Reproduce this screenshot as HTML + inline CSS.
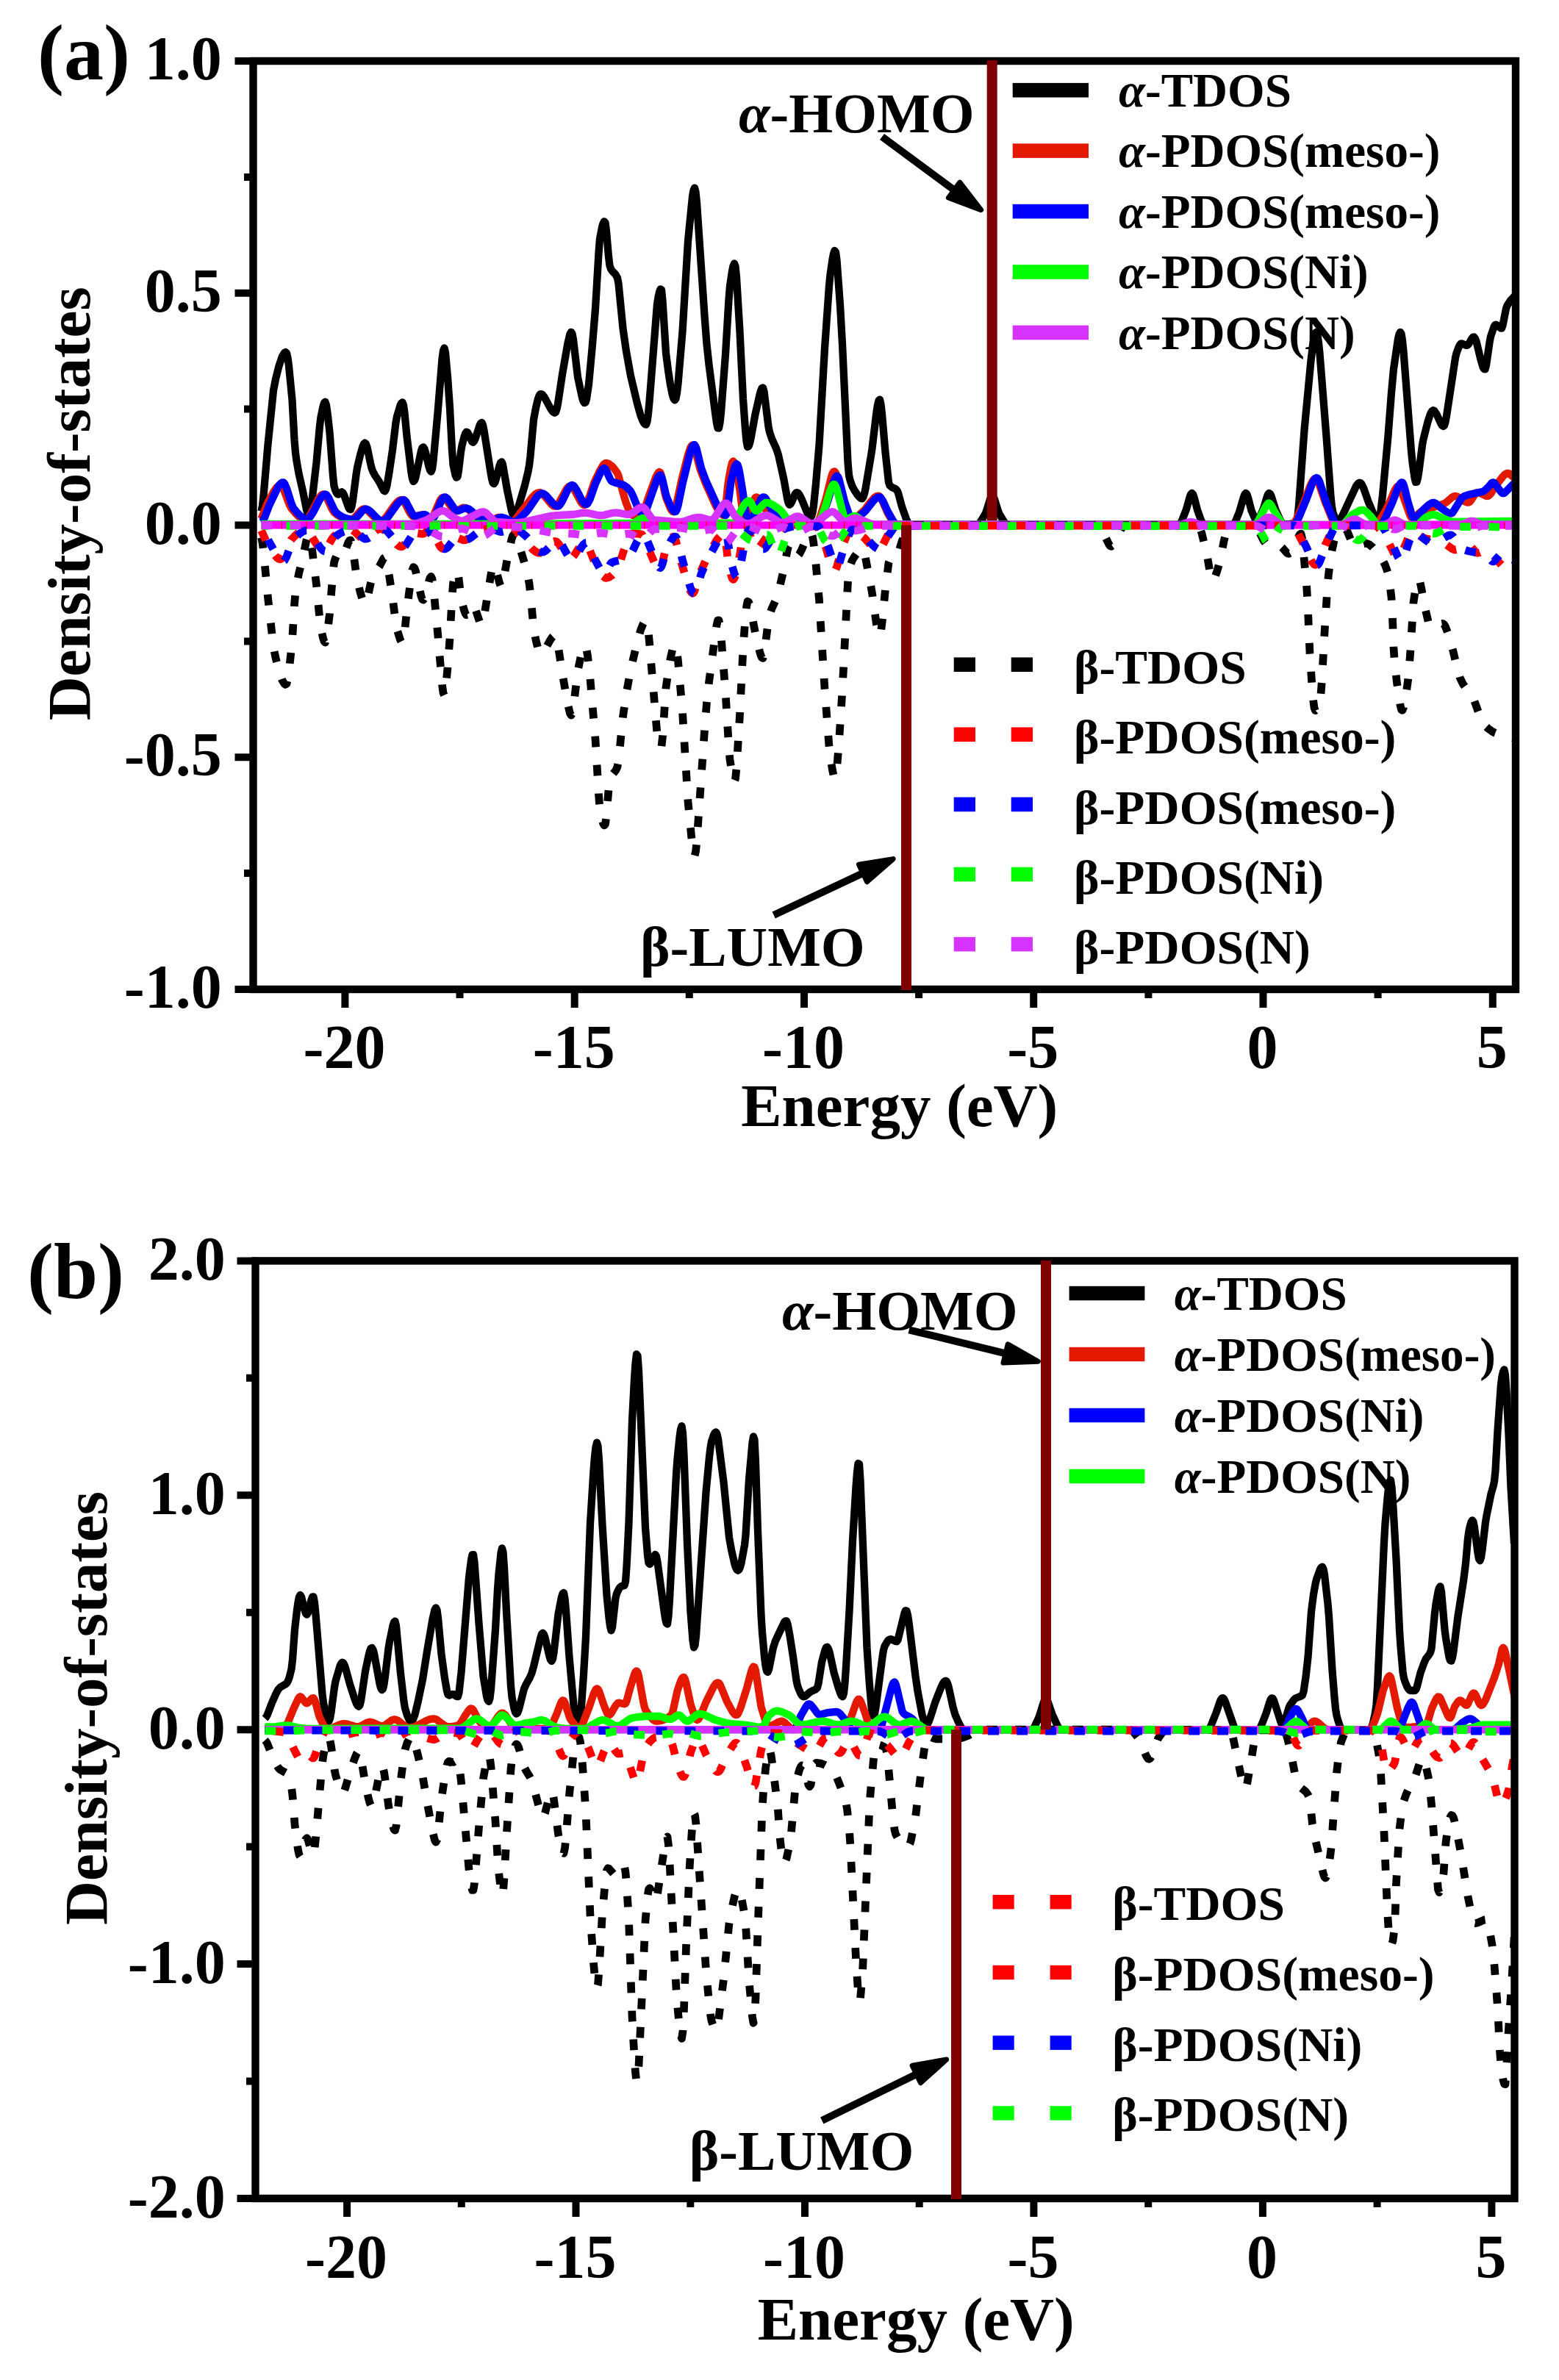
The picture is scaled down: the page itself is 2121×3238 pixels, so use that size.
<!DOCTYPE html>
<html><head><meta charset="utf-8"><title>DOS</title>
<style>html,body{margin:0;padding:0;background:#fff}svg{display:block}text{font-family:"Liberation Serif","Times New Roman",serif;font-weight:bold;fill:#000}.s{fill:none;stroke-width:10.3;stroke-linejoin:round;stroke-linecap:butt}.d{fill:none;stroke-width:10.7;stroke-linejoin:round;stroke-linecap:butt;stroke-dasharray:14.8 24.2}.t{font-size:84px}.l{font-size:65.1px}.m{font-size:65.5px}.n{font-size:77px}.p{font-size:108px}.x{font-size:83px}</style></head><body>
<svg width="2121" height="3238" viewBox="0 0 2121 3238">
<rect width="2121" height="3238" fill="#fff"/>
<defs><clipPath id="ca"><rect x="344.5" y="83.0" width="1717.5" height="1263.0"/></clipPath></defs>
<g clip-path="url(#ca)">
<path class="s" stroke="#000" d="M355.5 695.6L357 687.9L358.5 674.9L364.5 604.9L372 531.2L375 515.8L379.5 497.8L384 484.7L387 480L388.5 479.1L390 480.4L391.5 487L393 497.9L397.5 544.1L400.5 598.6L402 616.1L403.5 627.2L406.5 644.1L412.5 670.7L417 693.3L418.5 698.2L420 700L421.5 697.5L423 690.7L424.5 680.7L430.5 629L435 579.4L436.5 567.6L439.5 553L441 548.2L442.5 546.7L444 551.4L445.5 561.7L448.5 588.1L453 647.3L454.5 661.1L456 666.3L457.5 669.9L459 672.2L460.5 672.6L463.5 670.1L465 669.3L466.5 670.4L468 673.3L474 690.1L475.5 692.7L477 693.2L478.5 689.1L480 680.8L484.5 646L486 636.5L487.5 629.9L490.5 617.4L493.5 607.2L495 604L496.5 602.7L498 604.1L499.5 608.6L504 630.1L505.5 636.5L507 640.8L510 646.5L516 655.6L522 667.5L523.5 668.3L525 665.9L526.5 660.3L529.5 642.7L534 612.2L538.5 574.9L540 566.7L544.5 551.6L546 548.6L547.5 547.3L549 551.1L550.5 562.3L553.5 593.5L559.5 642.5L561 651.2L562.5 655L564 653.6L565.5 649.3L573 613.4L574.5 609.4L576 608.4L577.5 610.8L579 615.7L583.5 635L585 639.6L586.5 641.6L588 638.2L589.5 627.6L595.5 561.7L601.5 488.2L603 477L604.5 473.4L606 479.6L609 512.9L612 554.7L615 612.4L616.5 632.3L619.5 646.3L621 649.6L622.5 648.5L624 639.9L627 614.6L628.5 606L631.5 594.4L633 590.1L634.5 587.8L636 588.2L637.5 590.7L642 600.7L643.5 601.7L645 600.3L646.5 597.1L652.5 578.8L654 575.9L655.5 575L657 578.3L658.5 585.6L667.5 642.8L669 651.2L670.5 656.8L672 658.2L673.5 656L675 651.4L679.5 633.6L681 629.6L682.5 628.4L684 631.8L690 666.7L696 694.8L697.5 699.4L699 701.6L700.5 701.1L702 698.8L705 690.7L714 660.3L718.5 641.5L720 633.3L721.5 620.8L726 571L729 554.9L732 542.5L733.5 538.4L735 536.2L736.5 536.1L738 537L741 540.8L748.5 554.9L751.5 559.4L753 560.9L754.5 561.6L756 560.8L757.5 556.4L759 549.3L765 509.4L772.5 466.6L775.5 454.2L777 451.8L778.5 453.9L780 462L786 513L792 541L793.5 545.6L795 548.1L796.5 547.6L798 542.9L801 522.7L805.5 474.5L810 420L814.5 344.4L816 324.9L819 309.1L820.5 304.1L822 301.3L823.5 303L825 314.6L828 349.2L829.5 361.4L831 365.7L832.5 368.2L837 372.9L838.5 375.1L840 378.3L841.5 385.8L847.5 446.7L852 477.9L858 511.2L867 549.1L871.5 565.1L874.5 572.8L876 575.4L877.5 577.1L879 577.7L880.5 573.6L882 562.6L883.5 546.8L894 413.7L895.5 404.2L897 397.6L898.5 393.4L900 394.4L901.5 409.1L906 480.4L909 503.7L912 523.4L915 537.9L916.5 542.3L918 544.3L919.5 542.3L921 534.5L922.5 522L928.5 451.3L936 327.7L942 267.5L943.5 258.9L945 255.7L946.5 261.2L948 275.7L958.5 429.4L961.5 468.3L964.5 495.9L973.5 565.2L975 575.7L976.5 582.3L978 582.5L979.5 574.9L981 561.1L987 482.3L991.5 407.5L993 389.3L996 369L997.5 361.9L999 358.5L1000.5 362.3L1002 377L1006.5 450.7L1011 543.1L1014 584.3L1015.5 600.1L1017 608L1018.5 607.2L1020 603.1L1021.5 596.6L1027.5 563.6L1033.5 537.1L1035 531.7L1036.5 528.2L1038 527.5L1039.5 532.6L1045.5 580.6L1047 587.9L1050 596.8L1056 610L1059 619L1066.5 652.6L1071 677.7L1072.5 684.1L1074 686.7L1075.5 685.7L1077 683.1L1081.5 672.6L1083 670.5L1084.5 670.1L1086 671L1087.5 672.9L1090.5 678.8L1098 697.1L1101 702L1102.5 703.2L1104 702.7L1105.5 697.4L1107 687.4L1110 658.1L1114.5 605.3L1122 473.9L1128 388.9L1129.5 373.8L1132.5 353L1134 345.2L1135.5 341L1137 343L1138.5 354.1L1143 415.2L1146 468.1L1153.5 629L1155 646.7L1156.5 653.1L1159.5 661.7L1162.5 667.1L1167 673.8L1170 677.2L1171.5 678.1L1173 678.3L1174.5 676.1L1176 671.5L1177.5 664.8L1185 620L1186.5 610.2L1192.5 560.4L1194 550.9L1195.5 544.9L1197 543.6L1198.5 550.2L1200 563.5L1204.5 615.4L1209 656.3L1210.5 660.6L1213.5 663L1218 665L1219.5 666.1L1221 668.3L1222.5 672.5L1227 689.3L1233 706.2L1236 712.5L1237.5 714.1L1239 714.3L1329 714.4L1330.5 713.7L1333.5 710.6L1339.5 700.8L1341 697.9L1342.5 693.7L1347 679.3L1348.5 676.2L1350 675L1351.5 676.2L1353 679.3L1357.5 693.7L1359 697.9L1360.5 700.8L1366.5 710.6L1369.5 713.7L1371 714.4L1603.5 714.5L1605 713.6L1608 708.3L1614 692.9L1618.5 676.6L1620 672.7L1621.5 671L1623 672.3L1624.5 676.3L1629 693.7L1633.5 706.4L1636.5 713.1L1638 714.4L1675.5 714.5L1677 714.5L1678.5 713.4L1681.5 707.9L1686 696.7L1692 676.1L1693.5 672.4L1695 671L1696.5 672.7L1698 677.1L1702.5 694.5L1707 705L1708.5 707.4L1710 708.3L1711.5 707.5L1714.5 702.3L1719 691.7L1723.5 676.6L1725 672.7L1726.5 671L1728 671.9L1729.5 674.9L1735.5 693.9L1741.5 707.2L1744.5 712.1L1746 713.2L1747.5 713.3L1755 712.9L1762.5 711.8L1764 710.6L1765.5 702.6L1767 688L1774.5 585.1L1783.5 490.6L1786.5 466.3L1788 458L1789.5 452.9L1791 451.8L1792.5 456.5L1794 466.6L1795.5 481.1L1804.5 593.9L1810.5 675.6L1812 689.6L1813.5 697.2L1816.5 705.2L1818 707.9L1819.5 709.2L1821 709.1L1822.5 707.9L1824 705.9L1827 700.2L1845 661.3L1848 657.5L1849.5 656.7L1851 657L1852.5 658.6L1855.5 665L1861.5 682.3L1870.5 704L1873.5 708.7L1875 709.3L1876.5 706.6L1878 699.1L1881 673.8L1888.5 593.1L1893 534.4L1896 501.9L1902 460.9L1903.5 454.7L1905 451.8L1906.5 454.1L1908 463.5L1909.5 478.1L1920 613.6L1921.5 628.7L1924.5 649.9L1926 655.9L1927.5 655.7L1929 650L1930.5 640.6L1935 605.7L1936.5 597.4L1942.5 573.8L1945.5 564.5L1947 561.2L1948.5 559.1L1950 558.3L1951.5 559L1954.5 563.6L1960.5 576.6L1962 578.8L1963.5 579.9L1965 578.9L1966.5 573.9L1968 565.9L1980 486.7L1981.5 480.5L1984.5 472.4L1986 469.4L1987.5 467.6L1989 467.4L1995 469.9L1996.5 469.7L1998 468.2L2002.5 460.4L2004 458.7L2005.5 458.5L2007 460.5L2008.5 464.4L2014.5 489.2L2017.5 499.4L2019 502.1L2020.5 502.3L2022 497.1L2026.5 465.9L2028 457.8L2032.5 444.6L2034 442.2L2035.5 441.7L2037 442.5L2041.5 446.4L2043 446.5L2044.5 442.7L2049 419.8L2050.5 415.6L2055 408.8L2062.5 400.7"/>
<path class="s" stroke="#e31a00" d="M355.5 705.9L363 686.5L372 669.5L376.5 662.9L379.5 660.4L381 660L382.5 660.5L384 662.2L385.5 664.8L393 684.7L396 691.1L402 698.3L406.5 702.8L411 706L414 706.9L415.5 707L417 706.4L420 703.4L423 698.7L433.5 678.3L436.5 674.3L438 673.1L439.5 672.5L441 672.8L442.5 674L444 676.2L451.5 692.3L454.5 697L459 700.7L463.5 703.4L468 705.1L474 706.7L477 707L478.5 706.9L480 706.2L483 703.6L490.5 694.9L493.5 692.8L495 692.5L498 693.3L501 695.4L510 704.5L513 707.1L516 708.5L519 708.5L522 706.9L525 703.9L535.5 689.1L540 683.5L543 681L546 680L547.5 680.4L549 681.7L550.5 683.8L558 698.3L561 702L562.5 702.5L564 702.4L573 700.6L576 700.7L577.5 701.5L582 705.6L583.5 706.6L585 707L586.5 706.4L589.5 702.1L598.5 681L600 678.7L601.5 677.3L603 677L604.5 677.7L606 678.9L609 682.6L615 691.4L618 694.3L619.5 695L622.5 694.4L630 690.7L633 690.8L637.5 693.4L646.5 702.3L649.5 704.7L654 706.7L661.5 708.5L666 708.7L669 707.9L676.5 704.4L679.5 703.8L681 703.8L684 704.7L693 709.4L696 710L697.5 709.8L699 708.9L702 705.8L708 697.4L714 690.1L724.5 676.1L729 671.8L732 670.3L735 670.2L738 672L741 675.1L750 686.1L753 688.3L754.5 688.7L756 688.6L757.5 687.6L760.5 684L771 664.9L774 661.8L775.5 661.3L777 661.6L778.5 662.7L781.5 666.8L790.5 683.4L793.5 686.6L795 687L796.5 686.3L798 684.5L799.5 681.7L802.5 674L808.5 656.2L816 640.6L820.5 632.8L822 631.2L823.5 630.2L825 630L828 630.9L832.5 634.2L835.5 637.5L840 643.8L841.5 647.2L847.5 670L852 684.9L855 692.5L859.5 700.2L861 701.2L868.5 700.7L873 699.8L874.5 698.1L877.5 691.1L882 677.1L892.5 648.5L895.5 643.2L897 642.1L898.5 643L900 647.7L904.5 670.9L906 676.8L912 691.7L913.5 694.2L915 695.8L916.5 696.2L918 694.2L919.5 689.7L927 654.3L936 618.8L939 609.8L940.5 607L942 605.6L943.5 606.1L945 609.2L952.5 638.5L960 657.7L973.5 687.7L976.5 693L982.5 700.1L984 701L985.5 700.6L987 691.8L990 661.8L991.5 651.2L994.5 635.3L996 629.7L997.5 627.5L999 629.3L1000.5 634L1002 640.9L1006.5 666.5L1009.5 690.5L1011 699.3L1014 705.7L1015.5 707.3L1017 707.2L1018.5 704.8L1020 700.8L1026 680.1L1027.5 677.1L1029 676.3L1030.5 676.8L1033.5 679.8L1041 692.3L1044 696.5L1050 701.6L1056 705.6L1062 708.3L1071 711.5L1077 712.5L1110 713L1111.5 712.2L1113 710.1L1116 702.9L1123.5 679.4L1131 648.8L1132.5 644.4L1134 641.8L1135.5 641.4L1137 643.5L1138.5 647.7L1144.5 673.9L1147.5 685L1153.5 702.2L1155 705.3L1156.5 707.1L1158 707.5L1161 706.6L1165.5 703.6L1176 694L1185 682.1L1189.5 677.1L1192.5 675.1L1195.5 674.6L1197 675.6L1200 680.4L1207.5 697.8L1213.5 708.3L1216.5 712.4L1218 713.4L1219.5 713.5L1758 713.9L1759.5 713.1L1761 711.4L1764 706.1L1774.5 681.8L1782 662.2L1785 655.7L1786.5 653.3L1788 651.8L1789.5 651.2L1791 652L1792.5 654L1794 657.1L1803 683.3L1812 705.2L1815 711L1816.5 712.8L1818 713.9L1819.5 714L1870.5 714L1872 713.5L1875 710.9L1879.5 704.2L1888.5 688.2L1897.5 666.9L1900.5 662.3L1902 661.3L1903.5 661.7L1905 663.9L1918.5 701.7L1920 704.2L1921.5 705L1924.5 703.9L1932 697L1935 695L1941 692.8L1954.5 688.9L1965 685L1968 683.1L1975.5 676.7L1978.5 675.2L1980 675L1983 675.7L1993.5 682.6L1996.5 683.7L1998 683.7L1999.5 682.8L2001 681.1L2007 672L2008.5 670.5L2010 670L2013 670.6L2022 674.8L2023.5 675L2025 674.7L2028 672L2035.5 660.1L2044.5 648.5L2047.5 645.4L2050.5 643.8L2052 643.8L2053.5 644.5L2059.5 649.7L2064 652.1"/>
<path class="s" stroke="#0000ff" d="M355.5 710.5L357 709.4L360 704.1L366 688.3L378 663.2L381 658.7L382.5 657.3L384 656.4L385.5 656.3L387 657.7L390 664.3L396 683.6L399 691L403.5 696.6L408 701.3L412.5 704.8L415.5 706L418.5 706.1L421.5 703.9L426 697.2L433.5 682.5L436.5 677.4L439.5 673.8L441 672.8L442.5 672.5L444 673.1L447 677.1L454.5 693.2L457.5 697.5L462 701L466.5 703.6L471 705.3L477 706.8L480 707L483 705.9L486 703.1L493.5 694.4L496.5 692.6L498 692.5L501 693.6L504 695.8L513 705L516 707.4L519 708.7L522 708.4L525 706.4L528 703.3L541.5 684.6L546 680.7L549 680L550.5 680.7L552 682.3L561 699.1L562.5 701.1L564 702.3L567 702.3L574.5 700.4L577.5 700L579 700.4L580.5 701.4L585 705.3L586.5 706.1L588 706.2L589.5 705.2L591 703.1L594 696.9L600 682.2L603 677.3L604.5 676.3L606 676.4L609 678.7L618 691.9L621 694.6L622.5 695L624 694.8L631.5 691.6L634.5 691.3L637.5 692.3L640.5 694.4L651 704.1L654 705.9L657 706.8L664.5 708.5L669 708.6L672 707.7L679.5 704.3L682.5 703.8L687 704.9L696 709.5L699 710L702 709.2L705 707.2L715.5 697L720 691.4L730.5 675.9L733.5 672.9L736.5 671.4L739.5 671.7L742.5 673.7L751.5 684L754.5 686.9L757.5 688.6L759 688.7L760.5 688.1L762 686.6L765 681.8L772.5 666L775.5 661.6L777 660.3L778.5 660L780 660.6L781.5 662L784.5 666.5L790.5 678.4L793.5 683.3L795 685L796.5 686L798 686.2L799.5 685L802.5 679.6L810 658.2L817.5 642L820.5 637.7L822 637L823.5 637.9L825 640.2L829.5 650.6L831 653.4L832.5 655L837 656.7L846 658.9L849 660.2L853.5 663.4L858 668.2L861 674.3L867 689.1L871.5 696.9L873 698.9L874.5 699.9L876 699.6L877.5 697.6L879 694.3L894 651.7L895.5 648.7L897 646.8L898.5 646.3L900 648.6L901.5 653.4L906 672.9L907.5 677.5L912 687.8L915 693.3L916.5 695.1L918 696.1L919.5 695.9L921 693L922.5 687.9L928.5 658.6L939 615.7L942 607.5L943.5 605.4L945 605.2L946.5 607.5L948 611.9L954 636.8L960 653L976.5 689.7L979.5 694.4L984 699.4L987 701.2L988.5 699.3L990 690.8L994.5 654.8L999 637.4L1000.5 633.4L1002 631.4L1003.5 632.2L1005 636.9L1006.5 644.3L1011 671.8L1014 695.7L1015.5 701.2L1018.5 706.7L1020 707.5L1021.5 706.9L1023 705.4L1026 699.9L1032 685.5L1035 679.5L1036.5 677.5L1038 676.4L1039.5 676.4L1041 677.4L1042.5 679.3L1051.5 696.3L1057.5 702.3L1063.5 706.7L1069.5 709.6L1075.5 711.8L1080 712.5L1111.5 713L1113 712.9L1114.5 711.7L1117.5 706.1L1126.5 680.8L1134 655.2L1137 648.7L1138.5 647.5L1140 648.5L1141.5 651.8L1149 681.9L1155 699.6L1158 706L1159.5 707.4L1161 707.4L1164 706.4L1168.5 703.2L1177.5 695.1L1188 681.8L1191 678.7L1194 676.7L1195.5 676.3L1197 676.4L1198.5 677.5L1201.5 682.1L1207.5 695.4L1215 708.6L1218 712.6L1219.5 713.4L1221 713.5L1759.5 714L1761 713.8L1762.5 712.6L1765.5 707.8L1777.5 679.1L1785 658.5L1788 652.6L1789.5 650.8L1791 650L1792.5 650.6L1794 652.7L1795.5 656L1804.5 683.8L1813.5 705.9L1816.5 711.4L1818 713.1L1819.5 713.9L1821 714L1878 713.9L1879.5 713.2L1881 711.5L1884 706.4L1894.5 683.1L1902 663.3L1905 657.9L1906.5 656.5L1908 656.4L1909.5 659L1911 663.9L1915.5 682.6L1920 697.8L1921.5 702.1L1923 704.6L1924.5 704.9L1926 704.3L1929 701.9L1936.5 693.4L1944 686.7L1948.5 684L1950 683.8L1953 684.7L1960.5 691L1968 696.4L1971 698.1L1974 698.7L1975.5 698L1977 696.3L1989 677.1L1992 675.2L1998 673L2017.5 668.8L2020.5 666.8L2025 662.5L2029.5 657.1L2031 656.3L2032.5 656.7L2034 658.2L2041.5 668.5L2043 670.2L2044.5 671.2L2046 671.1L2047.5 670.1L2058 659.4L2064 655.4"/>
<path class="s" stroke="#00ff00" d="M355.5 713L642 712.8L859.5 712L862.5 711.5L871.5 706L874.5 705L877.5 705.5L886.5 711L889.5 712L951 711.9L999 711.3L1000.5 711L1002 708.1L1005 700L1012.5 686.6L1015.5 682.9L1017 681.7L1018.5 681.3L1020 681.8L1021.5 683.8L1026 692.5L1027.5 694.4L1029 695L1030.5 694.5L1032 693.4L1038 686.6L1041 684.1L1042.5 683.8L1045.5 684.1L1051.5 686.7L1060.5 692.9L1063.5 696.2L1071 706.2L1075.5 709.6L1080 712.4L1084.5 713.7L1111.5 713.8L1113 713.6L1114.5 712.1L1116 709L1123.5 687.3L1129.5 667.5L1132.5 660.4L1134 658.9L1135.5 659.3L1137 661.7L1138.5 665.8L1149 706.2L1150.5 707.5L1152 707.1L1159.5 702.8L1162.5 702L1164 702.2L1167 703.9L1176 712L1179 713.4L1180.5 713.5L1707 714L1708.5 713.7L1710 712.2L1722 689.1L1725 685L1726.5 684.5L1728 685.5L1729.5 687.5L1734 695.9L1743 710.6L1746 713.6L1747.5 714L1825.5 714L1827 713.5L1830 711L1836 703.8L1839 700.7L1848 695.3L1851 694.1L1854 693.8L1857 694.9L1860 697.4L1866 703.6L1872 712.1L1873.5 713.5L1875 714L1927.5 714L1929 713.7L1930.5 712.8L1939.5 704L1945.5 701L1950 700L1954.5 701.1L1960.5 704.1L1971 708.6L1977 710L2064 708.8"/>
<path class="s" stroke="#d633ff" d="M355.5 714L471 713.8L561 713L568.5 711.6L580.5 707.3L585 704.8L592.5 699.3L597 696.5L600 695.3L603 695L604.5 695.4L607.5 697L613.5 701.6L622.5 707.2L627 708.7L630 708.4L633 707.4L651 698.1L654 696.9L657 696.3L658.5 696.4L661.5 698.1L672 708.3L673.5 709.4L675 710L690 711L705 711.2L714 709.9L750 701.9L757.5 701.1L780 700L793.5 697.6L799.5 697.9L811.5 700.6L816 701.2L822 700.8L832.5 698.1L837 697.5L841.5 697.8L852 699.8L856.5 699.8L861 697.6L868.5 691.9L871.5 690.4L873 690L874.5 690.1L876 690.9L877.5 692.3L886.5 705.1L889.5 707.4L916.5 709.7L925.5 710L930 709.4L943.5 704.8L949.5 703.8L954 704.2L964.5 707.2L967.5 707.5L969 707.1L970.5 706.1L973.5 702.5L982.5 688.1L985.5 685.1L987 684.5L988.5 684.7L990 685.8L991.5 687.5L999 700.7L1002 704.6L1011 710.7L1014 711.9L1017 712.5L1020 712.2L1023 711.1L1036.5 702.9L1039.5 701.7L1042.5 701.2L1045.5 701.7L1048.5 703L1060.5 710.2L1065 711.2L1069.5 710.1L1081.5 703.2L1084.5 702.5L1086 702.6L1090.5 704.4L1101 711.5L1104 712.4L1105.5 712.5L1108.5 711.8L1111.5 710.2L1126.5 698.2L1129.5 696.8L1132.5 696.2L1134 696.5L1137 698.5L1144.5 706.8L1147.5 709.2L1149 709.9L1152 709.7L1161 705.2L1164 705.1L1170 706.5L1183.5 712.3L1189.5 713.5L1605 714L1608 713.6L1615.5 710.9L1620 710L1623 710.4L1630.5 713.1L1635 714L1707 714L1708.5 713.9L1711.5 712.8L1722 705.1L1725 703.9L1726.5 703.8L1728 704L1731 705.4L1740 712.2L1743 713.7L1744.5 714L1825.5 714L1828.5 713.2L1837.5 707.8L1842 706.3L1843.5 706.3L1846.5 707.3L1855.5 712.7L1858.5 713.8L1860 714L1884 713.8L1887 712.6L1894.5 708.2L1897.5 707.5L1900.5 708.2L1909.5 713.3L1912.5 714L1987.5 713.5L1990.5 713L1999.5 709.2L2002.5 708.8L2005.5 709.2L2014.5 713L2017.5 713.5L2064 713.5"/>
<path d="M358 714.5H1238M1545 714.5H2058" stroke="#ff00ff" stroke-width="10" fill="none"/><path d="M358 714.5H1238M1545 714.5H2058" stroke="#ff0000" stroke-width="10" stroke-dasharray="1.2 15.8" stroke-dashoffset="-8" fill="none"/>
<path class="d" stroke="#000" stroke-dashoffset="0" d="M355.5 731.3L357 738.2L358.5 749.9L364.5 812.9L372 880.3L375 895L379.5 912.8L384 925.7L387 930.4L388.5 931.3L390 930.2L391.5 924.3L393 914.6L397.5 872.8L400.5 822.5L402 806.3L403.5 796.1L406.5 780.5L412.5 755.8L417 734.6L418.5 730L420 728.3L421.5 730.7L423 737.1L424.5 746.6L430.5 795.8L435 843L436.5 854.2L439.5 868.1L441 872.7L442.5 874.1L444 869.7L445.5 859.9L448.5 834.8L453 778.5L454.5 765.4L456 760.4L457.5 756.9L459 754.8L460.5 754.4L463.5 756.8L465 757.5L466.5 756.5L468 753.8L474 737.7L475.5 735.3L477 734.8L478.5 738.7L480 746.6L484.5 779.9L486 788.9L487.5 795.2L490.5 807.2L493.5 816.9L495 819.9L496.5 821.2L498 819.8L499.5 815.5L504 795L505.5 789L507 784.9L510 779.5L516 770.8L522 759.4L523.5 758.6L525 760.9L526.5 766.3L529.5 783.2L534 812.4L538.5 848L540 855.9L544.5 870.4L546 873.3L547.5 874.5L549 870.9L550.5 860.2L553.5 830.3L559.5 783.4L561 775.2L562.5 771.5L564 772.8L565.5 777L573 811.4L574.5 815.3L576 816.2L577.5 813.9L579 809.3L583.5 790.8L585 786.3L586.5 784.4L588 787.7L589.5 797.9L595.5 861.2L601.5 931.8L603 942.7L604.5 946.1L606 940.2L609 908.3L612 868.1L615 812.7L616.5 793.6L619.5 780.2L621 777L622.5 778.1L624 786.4L627 810.8L628.5 819.1L631.5 830.3L633 834.5L634.5 836.7L636 836.3L637.5 834L642 824.4L643.5 823.5L645 824.9L646.5 828L652.5 845.8L654 848.6L655.5 849.4L657 846.3L658.5 839.3L667.5 784L669 775.8L670.5 770.4L672 769.1L673.5 771.3L675 775.7L679.5 793.1L681 796.9L682.5 798.2L684 794.9L690 761L696 733.7L697.5 729.2L699 727.1L700.5 727.6L702 729.8L705 737.7L714 767.4L718.5 785.7L720 793.7L721.5 806L726 854.7L729 870.6L732 882.7L733.5 886.8L735 888.9L736.5 889L738 888.2L741 884.6L748.5 871L751.5 866.6L753 865.2L754.5 864.5L756 865.3L757.5 869.6L759 876.7L765 916L772.5 958.4L775.5 970.7L777 973.1L778.5 971L780 963L786 913L790.5 891.6L793.5 881.2L795 878.7L796.5 879.2L798 883.8L799.5 892.3L802.5 918.1L810 1005.7L814.5 1080.8L816 1100.1L819 1115.4L820.5 1120.2L822 1122.9L823.5 1121.2L825 1109.5L828 1074.6L829.5 1062.1L831 1057.4L832.5 1054.6L837 1049.2L838.5 1046.7L840 1043.1L841.5 1035.4L847.5 975.1L852 944L858 910.9L867 873.3L871.5 857.4L874.5 849.8L876 847.1L877.5 845.5L879 844.9L880.5 848.8L882 859.1L883.5 874L894 998.4L895.5 1007L897 1012.8L898.5 1016.5L900 1015.5L901.5 1001.9L906 935.8L909 914.4L912 896.3L915 883.1L916.5 879.1L918 877.3L919.5 879.2L921 886.9L922.5 899.2L928.5 968.5L936 1090.4L942 1152L943.5 1160.8L945 1164.2L946.5 1158.7L948 1144.5L958.5 993.9L961.5 955.8L964.5 928.7L973.5 860.8L975 850.5L976.5 844.1L978 843.9L979.5 851.3L981 864.8L987 942L991.5 1015.3L993 1033.2L996 1053.1L997.5 1060.1L999 1063.4L1000.5 1059.6L1002 1045.1L1006.5 972.5L1011 881.8L1014 841.5L1015.5 826L1017 818.2L1018.5 819L1020 823L1021.5 829.3L1027.5 861L1033.5 886.3L1035 891.4L1036.5 894.7L1038 895.4L1039.5 890.5L1045.5 843.7L1047 836.6L1050 827.9L1056 814.9L1059 806.2L1066.5 773.7L1071 749.6L1072.5 743.4L1074 741L1075.5 742L1077 744.4L1081.5 754.2L1083 756.2L1084.5 756.6L1086 755.7L1087.5 753.9L1090.5 748.3L1098 730.9L1101 726.2L1102.5 725.1L1104 725.5L1105.5 730.5L1107 739.8L1110 767.2L1114.5 816.2L1122 937.6L1128 1015.5L1129.5 1029.1L1132.5 1047.6L1134 1054.5L1135.5 1058.2L1137 1056.2L1138.5 1045.8L1141.5 1009.2L1146 939.5L1153.5 792.2L1155 776.1L1156.5 770.2L1159.5 762.2L1162.5 757.3L1167 751.1L1170 748L1171.5 747.1L1173 747L1174.5 748.9L1176 753L1177.5 758.9L1185 798.4L1186.5 806.9L1192.5 850.3L1194 858.6L1195.5 863.8L1197 864.9L1198.5 859.2L1200 847.4L1204.5 801.7L1209 765.7L1210.5 761.9L1213.5 759.8L1218 758.1L1219.5 757.1L1221 755.1L1222.5 751.4L1227 736.5L1233 723.1L1236 717.7L1237.5 715.8L1239 714.7L1240.5 714.5L1494 714.6L1495.5 715.9L1497 718.1L1503 729L1509 741.2L1510.5 742.9L1512 743.3L1513.5 742.3L1515 740.2L1521 727.8L1527 717L1528.5 715.2L1530 714.5L1591.5 714.7L1630.5 715.5L1632 717.2L1635 725.5L1642.5 757.1L1647 783.8L1648.5 789.1L1650 789.8L1651.5 788.2L1653 785.2L1656 776.4L1660.5 760.3L1665 736.5L1666.5 730.5L1669.5 721.9L1671 718.5L1672.5 716.4L1674 716L1683 715.6L1707 715.4L1708.5 716.1L1711.5 720.2L1719 735.4L1722 739.3L1725 740.3L1737 741.2L1740 741.7L1741.5 742.3L1744.5 745.1L1750.5 752.1L1752 753L1753.5 753.3L1755 752.5L1756.5 750.5L1767 729.3L1768.5 727L1770 726L1771.5 732.1L1777.5 795.1L1779 819.5L1782 888.5L1785 933.4L1786.5 951.2L1788 962.9L1789.5 966.7L1791 965.5L1792.5 962.5L1795.5 952L1797 944.6L1798.5 925.4L1801.5 869.3L1806 797.8L1807.5 781.5L1810.5 756.6L1815 735.4L1818 726.2L1819.5 723.7L1822.5 721.9L1827 720.3L1830 720L1831.5 720.8L1833 723L1839 737.5L1840.5 740.6L1842 742.7L1843.5 743.3L1845 743.2L1855.5 739.7L1858.5 739.3L1860 739.5L1863 740.9L1867.5 744.7L1875 753.3L1879.5 759.3L1884 767.7L1887 775.7L1888.5 780.6L1890 787.8L1893 812.9L1894.5 840.5L1896 881L1897.5 903.3L1900.5 928.9L1905 959.3L1906.5 965.6L1908 966.3L1909.5 962.6L1912.5 947.1L1915.5 926.1L1918.5 891L1923 819.5L1926 800L1927.5 793.2L1929 789.2L1930.5 788.6L1932 792.2L1933.5 798.9L1938 823.6L1944 849.5L1945.5 852.4L1947 852.6L1950 852L1959 848.9L1962 848.4L1963.5 848.6L1965 850L1966.5 852.7L1969.5 860.6L1977 886.1L1983 910.9L1986 921.6L1990.5 930.8L2001 945L2005.5 952.7L2014.5 977.6L2017.5 983.9L2020.5 987.4L2025 991.5L2029.5 994.7L2034 997.2L2044.5 1000.9L2062.5 1004.9"/>
<path class="d" stroke="#ff0000" stroke-dashoffset="39" d="M355.5 721.8L363 738.3L372 752.8L376.5 758.4L379.5 760.5L381 760.8L382.5 760.4L384 759L385.5 756.7L393 739.9L396 734.4L402 728.3L406.5 724.4L411 721.7L414 720.9L415.5 720.9L417 721.4L420 723.9L423 728L433.5 745.3L436.5 748.6L439.5 750.2L441 750L442.5 748.9L444 747.1L451.5 733.4L454.5 729.4L459 726.3L463.5 723.9L468 722.4L474 721.2L477 720.9L480 721.6L483 723.8L490.5 731.2L493.5 732.9L495 733.2L498 732.5L501 730.8L510 723L513 720.8L516 719.6L519 719.6L522 721L525 723.5L535.5 736.1L540 740.9L543 743L546 743.8L547.5 743.5L550.5 740.6L558 728.3L561 725.2L562.5 724.7L564 724.8L573 726.3L576 726.2L577.5 725.5L582 722.1L585 720.9L586.5 721.4L589.5 725.1L598.5 743L600 745L601.5 746.1L603 746.3L606 744.8L615 734.1L618 731.6L619.5 731.1L622.5 731.6L630 734.8L633 734.7L637.5 732.4L649.5 722.8L654 721.1L661.5 719.6L666 719.4L669 720.1L676.5 723.1L681 723.6L684 722.8L693 718.9L696 718.3L697.5 718.5L699 719.2L702 721.9L708 729L714 735.2L724.5 747.2L729 750.8L732 752.1L735 752.2L738 750.7L741 748L750 738.6L753 736.8L754.5 736.4L756 736.5L757.5 737.3L760.5 740.4L771 756.6L774 759.3L775.5 759.8L777 759.5L778.5 758.6L781.5 755.1L790.5 740.9L793.5 738.3L795 737.9L796.5 738.4L799.5 742.4L802.5 748.9L808.5 764L816 777.3L820.5 783.9L823.5 786.2L825 786.3L828 785.6L832.5 782.8L835.5 779.9L840 774.6L841.5 771.7L847.5 752.3L852 739.7L855 733.2L859.5 726.6L861 725.8L868.5 726.2L873 727L874.5 728.4L877.5 734.4L882 746.2L892.5 770.6L895.5 775.1L897 776.1L898.5 775.3L900 771.3L904.5 751.5L906 746.5L912 733.9L913.5 731.8L915 730.4L916.5 730.1L918 731.8L919.5 735.6L927 765.6L936 795.9L939 803.5L940.5 805.9L942 807.1L943.5 806.6L945 804L952.5 779.1L960 762.8L973.5 737.3L976.5 732.8L982.5 726.7L984 725.9L985.5 726.4L987 733.8L990 759.3L991.5 768.3L994.5 781.8L996 786.6L997.5 788.5L999 786.9L1000.5 782.9L1002 777L1006.5 755.3L1009.5 734.9L1011 727.5L1014 722L1015.5 720.6L1017 720.7L1018.5 722.7L1026 743.7L1027.5 746.3L1029 747L1030.5 746.6L1033.5 744L1041 733.4L1044 729.8L1050 725.5L1056 722.1L1062 719.8L1071 717.1L1077 716.2L1110 715.8L1111.5 716.4L1113 718.2L1116 724.4L1123.5 744.4L1131 770.4L1132.5 774.1L1134 776.3L1135.5 776.6L1137 774.8L1138.5 771.3L1144.5 749L1147.5 739.6L1153.5 725L1155 722.4L1156.5 720.8L1158 720.5L1161 721.2L1165.5 723.8L1176 731.9L1185 742L1189.5 746.3L1192.5 748L1195.5 748.4L1197 747.6L1200 743.5L1207.5 728.7L1213.5 719.8L1216.5 716.3L1218 715.5L1219.5 715.3L1758 715L1759.5 715.7L1761 717.1L1764 721.7L1774.5 742.3L1782 759L1785 764.5L1788 767.8L1789.5 768.3L1791 767.6L1792.5 765.9L1794 763.2L1803 741L1812 722.4L1815 717.5L1816.5 715.9L1818 715L1819.5 714.9L1870.5 715L1872 715.4L1875 717.6L1879.5 723.2L1888.5 736.8L1897.5 754.9L1900.5 758.9L1902 759.7L1903.5 759.4L1905 757.5L1918.5 725.4L1920 723.2L1921.5 722.6L1924.5 723.6L1932 729.3L1935 731.1L1941 733L1954.5 736.2L1965 739.6L1968 741.2L1975.5 746.6L1978.5 747.9L1980 748.1L1983 747.5L1993.5 741.6L1996.5 740.7L1998 740.7L1999.5 741.4L2001 742.9L2007 750.6L2008.5 751.9L2010 752.3L2013 751.8L2022 748.3L2025 748.3L2028 750.6L2035.5 760.7L2044.5 770.6L2047.5 773.2L2050.5 774.6L2052 774.6L2053.5 774L2059.5 769.6L2064 767.6"/>
<path class="d" stroke="#0000ff" stroke-dashoffset="20" d="M355.5 717.9L357 718.9L360 723.3L366 736.8L378 758.1L381 761.9L382.5 763.2L384 763.9L385.5 763.9L387 762.8L390 757.2L396 740.8L399 734.5L403.5 729.7L408 725.7L412.5 722.8L415.5 721.7L418.5 721.6L421.5 723.5L426 729.2L433.5 741.7L436.5 746L439.5 749.1L441 749.9L442.5 750.2L444 749.7L447 746.3L454.5 732.6L457.5 729L462 726L466.5 723.7L471 722.3L477 721.1L480 720.9L483 721.8L486 724.2L493.5 731.6L496.5 733.1L498 733.2L501 732.3L504 730.4L513 722.6L516 720.5L519 719.5L522 719.7L525 721.3L528 724L541.5 739.9L546 743.2L549 743.8L550.5 743.2L552 741.8L561 727.6L562.5 725.9L564 724.9L567 724.8L574.5 726.5L577.5 726.8L580.5 725.7L585 722.3L586.5 721.7L588 721.6L589.5 722.4L591 724.2L594 729.5L600 742L603 746.1L604.5 747L606 746.9L609 744.9L618 733.7L621 731.4L624 731.2L631.5 733.9L634.5 734.2L637.5 733.3L640.5 731.6L651 723.4L654 721.8L657 721L664.5 719.6L669 719.5L679.5 723.2L682.5 723.6L687 722.6L696 718.7L699 718.3L702 719L705 720.7L715.5 729.4L720 734.1L730.5 747.3L733.5 749.9L736.5 751.2L739.5 750.9L742.5 749.2L751.5 740.4L754.5 737.9L757.5 736.5L759 736.4L760.5 736.9L762 738.2L765 742.3L771 753.2L774 757.8L777 760.5L778.5 760.8L780 760.3L781.5 759.1L784.5 755.3L790.5 745.2L793.5 741L796.5 738.7L798 738.6L799.5 739.5L802.5 744.2L810 762.3L817.5 776.1L820.5 779.8L822 780.4L823.5 779.6L825 777.6L829.5 768.8L831 766.4L832.5 765.1L837 763.6L846 761.8L849 760.6L853.5 757.9L858 753.9L861 748.7L867 736.1L871.5 729.4L873 727.8L874.5 726.9L876 727.2L877.5 728.9L879 731.7L894 767.9L895.5 770.4L897 772.1L898.5 772.5L900 770.5L901.5 766.4L906 749.8L907.5 746L912 737.2L915 732.5L916.5 731L918 730.1L919.5 730.3L921 732.8L922.5 737.1L928.5 762L939 798.5L942 805.5L943.5 807.2L945 807.4L946.5 805.5L948 801.7L954 780.5L960 766.8L976.5 735.6L979.5 731.6L984 727.3L987 725.8L988.5 727.4L990 734.6L994.5 765.2L999 780.1L1000.5 783.4L1002 785.1L1003.5 784.4L1005 780.5L1006.5 774.2L1011 750.8L1014 730.5L1015.5 725.8L1018.5 721.2L1020 720.5L1021.5 720.9L1023 722.3L1026 726.9L1032 739.2L1035 744.2L1036.5 746L1038 746.9L1039.5 746.9L1041 746L1042.5 744.4L1051.5 730L1057.5 724.8L1063.5 721.1L1069.5 718.7L1075.5 716.8L1080 716.2L1111.5 715.8L1113 715.8L1114.5 716.8L1117.5 721.6L1126.5 743.1L1134 764.9L1137 770.4L1138.5 771.4L1140 770.6L1141.5 767.8L1149 742.2L1155 727.2L1158 721.7L1159.5 720.5L1161 720.5L1164 721.4L1168.5 724.1L1177.5 730.9L1188 742.3L1191 744.9L1194 746.6L1197 746.9L1198.5 746L1201.5 742L1207.5 730.7L1215 719.5L1218 716.1L1219.5 715.4L1221 715.3L1759.5 714.9L1761 715.1L1762.5 716.1L1765.5 720.2L1777.5 744.6L1785 762.1L1788 767.1L1789.5 768.7L1791 769.3L1792.5 768.8L1794 767.1L1795.5 764.3L1804.5 740.6L1813.5 721.8L1816.5 717.2L1818 715.7L1819.5 715L1821 714.9L1878 715L1879.5 715.6L1881 717L1884 721.4L1894.5 741.2L1902 758L1905 762.6L1906.5 763.8L1908 763.8L1909.5 761.6L1915.5 741.6L1920 728.7L1921.5 725.1L1923 722.9L1924.5 722.6L1926 723.1L1929 725.2L1936.5 732.5L1944 738.1L1948.5 740.4L1950 740.6L1953 739.8L1960.5 734.5L1968 729.9L1971 728.4L1974 727.9L1975.5 728.6L1977 730L1989 746.3L1992 747.9L1998 749.8L2017.5 753.4L2020.5 755L2025 758.7L2029.5 763.3L2031 764L2032.5 763.6L2034 762.3L2041.5 753.6L2043 752.1L2044.5 751.3L2046 751.4L2047.5 752.2L2058 761.4L2064 764.7"/>
<path class="d" stroke="#00ff00" stroke-dashoffset="5" d="M355.5 715.5L994.5 715.5L996 715.6L999 717.2L1006.5 724.2L1015.5 731.4L1020 734.5L1023 735.7L1026 735.9L1029 735L1039.5 728.6L1042.5 727.6L1044 727.5L1045.5 728.6L1047 730.9L1054.5 749.7L1056 752.6L1057.5 754.5L1059 755L1060.5 753.8L1062 751.3L1069.5 730.4L1071 727.1L1072.5 725L1077 720.9L1081.5 717.6L1084.5 716.1L1087.5 715.5L1110 715.5L1111.5 716.1L1114.5 720.2L1119 729.6L1122 734.9L1128 740.4L1131 741.9L1132.5 742L1135.5 740.4L1143 732.8L1150.5 721.9L1153.5 718.1L1156.5 715.8L1158 715.5L1708.5 715.6L1710 716.3L1713 719.9L1722 735.8L1723.5 737.5L1725 738.5L1726.5 738.7L1728 738L1731 734.7L1740 719.5L1743 716.2L1744.5 715.5L1825.5 715.5L1828.5 716.7L1831.5 719.3L1840.5 730.1L1843.5 733.1L1846.5 734.8L1848 735L1849.5 734.7L1852.5 732.9L1855.5 729.7L1864.5 718.5L1867.5 716.2L1869 715.6L1926 715.5L1929 716.2L1932 717.5L1944 724.5L1947 725.6L1950 726L1953 725.6L1956 724.6L1968 718.3L1971 717.2L1974 716.5L2025 716.7L2064 717.5"/>
<path class="d" stroke="#d633ff" stroke-dashoffset="0" d="M355.5 714.9L471 715.1L561 715.7L568.5 716.8L580.5 720.3L585 722.2L597 728.9L600 729.8L603 730.1L607.5 728.5L613.5 724.8L622.5 720.3L627 719.1L630 719.4L633 720.2L651 727.6L654 728.6L657 729.1L658.5 729L661.5 727.6L672 719.5L675 718.1L690 717.3L705 717.2L714 718.2L750 724.6L757.5 725.2L780 726.1L793.5 728.1L799.5 727.8L816 725.1L822 725.5L832.5 727.6L837 728.1L841.5 727.8L852 726.3L856.5 726.2L861 728L868.5 732.6L873 734.1L874.5 734L877.5 732.3L886.5 722L889.5 720.2L916.5 718.4L925.5 718.1L931.5 718.9L945 722.6L949.5 723.1L954 722.7L964.5 720.3L967.5 720.1L969 720.4L970.5 721.2L973.5 724.1L982.5 735.6L985.5 738L987 738.5L988.5 738.3L991.5 736.1L999 725.6L1002 722.4L1011 717.6L1014 716.6L1017 716.1L1020 716.4L1023 717.2L1036.5 723.8L1039.5 724.7L1042.5 725.1L1047 724.3L1059 718.5L1062 717.5L1065 717.1L1069.5 718L1081.5 723.5L1086 724L1090.5 722.6L1101 716.9L1105.5 716.1L1108.5 716.7L1111.5 717.9L1126.5 727.5L1129.5 728.7L1132.5 729.1L1134 728.9L1137 727.3L1144.5 720.7L1147.5 718.7L1149 718.2L1152 718.4L1161 721.9L1164 722L1170 720.9L1183.5 716.3L1189.5 715.3L1605 714.9L1608 715.2L1615.5 717.4L1620 718.1L1623 717.8L1630.5 715.6L1635 714.9L1707 714.9L1711.5 715.9L1722 722L1726.5 723.1L1731 721.8L1740 716.3L1744.5 714.9L1825.5 714.9L1828.5 715.5L1837.5 719.9L1842 721.1L1846.5 720.3L1855.5 715.9L1860 714.9L1884 715L1887 716L1894.5 719.6L1897.5 720.1L1900.5 719.6L1908 716L1912.5 714.9L1987.5 715.3L1990.5 715.7L1999.5 718.7L2002.5 719.1L2005.5 718.7L2014.5 715.7L2017.5 715.3L2064 715.3"/>
</g>
<defs><clipPath id="cb"><rect x="347.5" y="1715.4" width="1713.0" height="1275.6"/></clipPath></defs>
<g clip-path="url(#cb)">
<path class="s" stroke="#000" d="M360.5 2337.9L362 2336.3L363.5 2333.6L369.5 2317.8L375.5 2304.1L378.5 2298.5L381.5 2295.4L389 2291L390.5 2289.4L392 2286.6L393.5 2282.7L396.5 2270.8L398 2258.1L401 2216.6L404 2190.7L405.5 2179.9L407 2172.4L408.5 2170L410 2172.4L414.5 2190.4L416 2195.1L417.5 2196.6L419 2194.2L423.5 2176.7L425 2172.6L426.5 2172.3L428 2180.6L429.5 2196L438.5 2305.2L440 2316.7L443 2331.3L444.5 2336.9L446 2340.5L447.5 2341.6L449 2337.9L450.5 2329.6L455 2295.4L456.5 2287.3L462.5 2266.6L464 2263.4L465.5 2261.8L467 2262.2L468.5 2264.9L470 2269.2L476 2291.4L482 2309.9L485 2317.9L486.5 2320.4L488 2321.6L489.5 2320.1L491 2314.2L497 2273.5L501.5 2252.5L503 2246.6L504.5 2242.7L506 2241.8L507.5 2244.3L509 2249.6L516.5 2290.7L518 2296.3L519.5 2299.1L521 2297.9L522.5 2291.2L524 2280.6L528.5 2242.5L530 2233.3L534.5 2211.7L536 2207.1L537.5 2205.7L539 2211.9L545 2276.7L549.5 2315L551 2324L554 2333.8L557 2340.5L558.5 2342.1L560 2342.1L561.5 2340.4L564.5 2332.6L569 2313.8L575 2284.9L581 2246.9L588.5 2202.9L591.5 2190L593 2187.4L594.5 2190.3L596 2201.1L600.5 2250.5L605 2283.1L608 2300.4L609.5 2305.4L611 2306.6L615.5 2305L617 2305.2L621.5 2308.1L623 2308.1L624.5 2302.7L627.5 2275.7L638 2146.1L641 2122.6L642.5 2115.3L644 2115.2L645.5 2125.3L651.5 2208L657.5 2280.5L662 2307.6L663.5 2313L665 2315L666.5 2310.4L668 2298L674 2216.8L677 2161.9L678.5 2141.6L681.5 2113L683 2106.3L684.5 2111.9L686 2132.8L689 2192.6L695 2293.8L696.5 2309L699.5 2324.5L701 2329.5L702.5 2331.6L704 2330.5L705.5 2326.9L707 2321.6L713 2297.5L716 2291L720.5 2283.1L723.5 2276.2L726.5 2265.3L735.5 2227.6L737 2223.2L738.5 2221.7L740 2223.6L741.5 2228L747.5 2253.7L749 2258.1L750.5 2260L752 2257.1L753.5 2248.3L759.5 2196.1L764 2172.8L765.5 2168L767 2167L768.5 2174.9L770 2191.1L774.5 2254.4L780.5 2319.9L782 2328L785 2338L786.5 2340.9L788 2341.4L789.5 2334.9L791 2320.9L794 2278.1L797 2227.4L803 2072.5L807.5 2000.9L809 1982.1L810.5 1968.8L812 1962.6L813.5 1967.6L815 1986.8L819.5 2075.1L825.5 2170.4L828.5 2200.9L830 2212.7L831.5 2218.3L833 2213.9L837.5 2173.9L839 2168.2L842 2161.7L843.5 2159.6L845 2158.3L849.5 2157L851 2151.8L852.5 2131.9L855.5 2072L860 1933.3L863 1876.6L864.5 1854.8L866 1842.4L867.5 1844.5L869 1865.3L878 2078.5L881 2115.6L882.5 2126.5L884 2128.1L885.5 2126.1L890 2116.4L891.5 2115L893 2117.5L894.5 2125.1L903.5 2191.6L905 2201.5L906.5 2208.2L908 2209.6L909.5 2198.4L911 2175.8L920 2006L921.5 1985.1L924.5 1955.5L926 1944.8L927.5 1940.1L929 1949.8L930.5 1979.2L935 2100L939.5 2192.9L942.5 2231.4L944 2241.3L945.5 2238.4L947 2226L960.5 2030.1L965 1982.3L966.5 1969.8L968 1961.2L971 1952.2L972.5 1949.4L974 1948.3L975.5 1950.9L977 1957.7L984.5 2016.4L992 2091.6L995 2108.4L999.5 2128.1L1001 2132.7L1002.5 2135.6L1004 2136.7L1005.5 2135.4L1007 2131.9L1008.5 2126.5L1013 2102.1L1014.5 2088.6L1019 2012.9L1023.5 1963.2L1025 1954.4L1026.5 1958.7L1028 1989.4L1031 2082.4L1035.5 2197.2L1037 2220.7L1040 2254L1041.5 2266.2L1043 2273.5L1044.5 2274.8L1046 2271.4L1052 2241.6L1055 2232.2L1067 2207L1068.5 2205.3L1070 2205.4L1071.5 2209.3L1074.5 2225.3L1079 2254.1L1083.5 2286.6L1085 2293.3L1086.5 2297.5L1089.5 2304.5L1091 2306.8L1092.5 2308.1L1094 2308.3L1095.5 2307.7L1101.5 2302.5L1104.5 2300.7L1109 2298.8L1112 2296.1L1113.5 2290.2L1118 2261.4L1122.5 2244.6L1124 2241.4L1125.5 2240.8L1127 2243.2L1128.5 2247.7L1134.5 2275.2L1140.5 2295.8L1143.5 2304.4L1145 2307.2L1146.5 2308.3L1148 2303.7L1149.5 2289.4L1151 2268.1L1155.5 2191.6L1160 2096.3L1164.5 2022.7L1166 2003.1L1167.5 1991L1169 1991.7L1170.5 2014.1L1179.5 2241.8L1182.5 2286.3L1185.5 2321.5L1187 2331.8L1188.5 2335L1190 2331.3L1191.5 2323L1200.5 2254.4L1202 2244.9L1203.5 2239.7L1208 2232.2L1209.5 2230.8L1211 2230.1L1212.5 2230.1L1218.5 2233L1220 2233.3L1221.5 2231.2L1230.5 2194.7L1232 2191.1L1233.5 2191.6L1235 2197.4L1236.5 2207.2L1245.5 2280.4L1248.5 2300.9L1254.5 2332.7L1257.5 2343.4L1259 2346.1L1260.5 2346.6L1262 2345.2L1263.5 2342.5L1266.5 2334.2L1272.5 2315.3L1280 2296.3L1283 2290L1284.5 2287.9L1286 2286.8L1287.5 2287.1L1289 2289.9L1290.5 2294.6L1296.5 2322.3L1299.5 2332.9L1304 2343.2L1307 2349L1310 2352.6L1311.5 2353.2L1403 2353.2L1404.5 2352.8L1406 2351.4L1407.5 2349.1L1413.5 2336.3L1419.5 2316.9L1421 2313.3L1422.5 2311.7L1424 2312.5L1425.5 2315L1431.5 2332.3L1439 2348.6L1442 2352.7L1443.5 2353.2L1643 2353.2L1644.5 2352.7L1646 2350.8L1647.5 2347.9L1655 2329.1L1659.5 2315.7L1661 2312.3L1662.5 2310.3L1664 2310.2L1665.5 2311.9L1667 2315.1L1679 2349.8L1680.5 2352.5L1682 2353.2L1712 2353.2L1713.5 2352.1L1715 2349.7L1718 2342.7L1722.5 2331.2L1727 2316.5L1728.5 2312.5L1730 2310.3L1731.5 2310.5L1733 2313.2L1742 2341.5L1743.5 2345.2L1745 2346.7L1746.5 2345.4L1748 2341.9L1752.5 2326.5L1754 2322.1L1755.5 2319.2L1760 2312.9L1763 2310.2L1770.5 2307.4L1772 2306.3L1773.5 2301.5L1776.5 2281.6L1779.5 2254.8L1784 2192.9L1787 2169.2L1790 2152.8L1791.5 2147.2L1796 2135L1797.5 2132.6L1799 2131.7L1800.5 2134.6L1802 2142.5L1806.5 2181.8L1808 2199.2L1812.5 2272.3L1815.5 2309.5L1817 2324.8L1818.5 2334L1820 2339.7L1823 2348.7L1824.5 2351.6L1826 2353L1863.5 2353.2L1865 2351.9L1866.5 2348.8L1868 2344L1871 2330.3L1872.5 2319.4L1874 2295.8L1883 2098.5L1884.5 2073L1887.5 2038.6L1889 2024.8L1890.5 2015.7L1892 2013.7L1893.5 2023.6L1895 2043.5L1899.5 2121.1L1904 2217.8L1905.5 2239.9L1908.5 2274.3L1910 2283.3L1911.5 2287.9L1914.5 2295.2L1916 2297.6L1917.5 2299.3L1919 2300L1925 2300L1926.5 2298.3L1928 2294.1L1932.5 2276L1937 2263.4L1940 2256.7L1944.5 2250.8L1946 2248.2L1947.5 2242.8L1952 2194.3L1953.5 2182.4L1956.5 2165.7L1958 2160.2L1959.5 2158.4L1961 2165.5L1965.5 2217L1967 2228.7L1971.5 2254.5L1973 2259L1974.5 2259.7L1976 2255.1L1977.5 2246.4L1983.5 2198.9L1991 2151L1994 2127.2L1997 2093.3L1998.5 2082.6L2000 2076L2001.5 2070.9L2003 2068.4L2004.5 2070.4L2006 2078L2010.5 2112.6L2012 2120.7L2013.5 2123.3L2015 2119L2016.5 2109.3L2021 2070.9L2022.5 2062L2028.5 2032.6L2031.5 2022.3L2033 2015.4L2034.5 2000.8L2037.5 1946.5L2042 1883.6L2043.5 1872.6L2045 1866.4L2046.5 1863.4L2048 1870.9L2049.5 1892.8L2052.5 1951.1L2055.5 2023.4L2060 2100"/>
<path class="s" stroke="#e31a00" d="M360.5 2351.8L372.5 2351L384.5 2349.7L387.5 2349L389 2347.7L392 2342.7L399.5 2324.5L405.5 2311.6L407 2309.2L408.5 2308.3L410 2309.1L416 2316.8L417.5 2317.3L419 2316.6L423.5 2311.5L425 2310.3L426.5 2310.2L428 2312.6L429.5 2317.2L434 2334.1L435.5 2337.7L441.5 2349.8L443 2351.7L444.5 2352.6L447.5 2352.4L450.5 2351.6L462.5 2346.2L467 2345.1L471.5 2345.3L483.5 2349L488 2349.2L491 2348.2L500 2343.4L503 2342.7L507.5 2343.6L516.5 2347.7L519.5 2348.3L521 2348.2L524 2347L533 2340.4L536 2339.4L537.5 2339.4L540.5 2340.4L543.5 2342.4L551 2348.5L555.5 2350.6L558.5 2350.6L563 2349.5L567.5 2347.6L581 2340.5L585.5 2338.9L590 2338.3L591.5 2338.5L594.5 2339.8L603.5 2346.6L606.5 2348.4L609.5 2349.3L615.5 2349L621.5 2347.8L624.5 2346.7L627.5 2343L632 2335.2L638 2326.5L639.5 2324.9L641 2324.3L642.5 2325L644 2326.7L650 2338.4L653 2343L659 2347.8L663.5 2349.8L665 2350L666.5 2349.6L668 2348.6L671 2345.1L678.5 2334L681.5 2331.2L683 2330.7L684.5 2330.9L687.5 2333.3L695 2344.7L698 2348.6L699.5 2349.7L704 2351.6L707 2352L746 2352L747.5 2351.8L749 2350.3L750.5 2347.7L758 2330.3L762.5 2318L764 2315L765.5 2313.4L767 2313.9L768.5 2316.4L774.5 2335.3L776 2338.9L780.5 2345L783.5 2348.3L786.5 2350.3L788 2350.7L789.5 2350.2L791 2348.5L792.5 2345.8L801.5 2322.9L807.5 2304.8L810.5 2298.6L812 2297.4L813.5 2298L815 2300.6L821 2318.4L825.5 2329.7L827 2332.4L828.5 2333.3L830 2332.6L831.5 2331L837.5 2320.5L840.5 2317L842 2316.7L843.5 2316.9L849.5 2318.3L851 2317.6L852.5 2314.4L857 2297.7L863 2278.1L864.5 2274.7L866 2273.3L867.5 2275.2L869 2280.3L875 2314.1L876.5 2321.3L878 2326L884 2335.1L888.5 2339.7L891.5 2341.4L893 2341.7L896 2341.5L900.5 2340.6L905 2338.9L908 2337.2L912.5 2334L914 2332.4L915.5 2327.9L921.5 2300.5L926 2287.4L927.5 2284.1L929 2282.1L930.5 2281.9L932 2284.7L933.5 2290.1L939.5 2318.4L945.5 2336.5L947 2339.2L948.5 2340L950 2339.2L953 2334.4L960.5 2315.6L971 2294.6L974 2290.6L975.5 2289.6L977 2289.4L978.5 2290.4L980 2292.6L989 2314.8L996.5 2328.6L999.5 2332.4L1001 2333.2L1002.5 2333.1L1004 2331.6L1007 2325.1L1016 2296.9L1022 2274L1023.5 2269.9L1025 2267.6L1026.5 2268.1L1028 2273L1035.5 2321.9L1040 2336.8L1043 2344.3L1044.5 2346.9L1046 2348.2L1049 2348L1052 2346.7L1059.5 2342.6L1062.5 2341.7L1064 2341.7L1067 2343.1L1076 2351.5L1079 2353.1L1151 2353.2L1152.5 2352.7L1154 2349.9L1158.5 2334.5L1164.5 2317.4L1166 2314L1167.5 2312L1169 2311.9L1170.5 2313.7L1173.5 2321.1L1178 2333.9L1182.5 2349.5L1184 2352.5L1185.5 2353.2L1773.5 2353.2L1776.5 2351.9L1785.5 2342.7L1787 2341.9L1788.5 2341.7L1790 2341.9L1793 2343.5L1802 2351.3L1805 2352.9L1806.5 2353.2L1863.5 2353.2L1865 2352.3L1866.5 2350.3L1871 2339.8L1874 2331.4L1875.5 2325.8L1881.5 2300.5L1887.5 2283.6L1889 2281.1L1890.5 2280L1892 2282L1893.5 2287.7L1901 2324.1L1907 2345.6L1908.5 2348.8L1910 2350L1920.5 2349.7L1931 2348.5L1940 2346.7L1941.5 2344.9L1943 2340.9L1947.5 2325.4L1949 2321.9L1953.5 2312.2L1955 2309.9L1956.5 2308.5L1958 2308.6L1959.5 2310.4L1970 2334.6L1971.5 2336.7L1973 2337.2L1974.5 2335.1L1979 2321.9L1983.5 2315.3L1985 2313.9L1986.5 2313.3L1988 2313.8L1992.5 2318.6L1994 2319.7L1995.5 2319.9L1997 2318.3L2001.5 2308L2003 2305.1L2004.5 2303.5L2006 2303.8L2007.5 2305.9L2012 2316.4L2013.5 2319L2015 2320L2016.5 2319.5L2018 2318L2021 2312.9L2033 2282.4L2039 2264.2L2043.5 2244.1L2045 2241.7L2046.5 2243.4L2048 2248L2061.5 2312.6"/>
<path class="s" stroke="#0000ff" d="M360.5 2353L1079 2353.2L1080.5 2353.1L1082 2351.7L1083.5 2348.9L1089.5 2334.2L1097 2321.1L1098.5 2319.4L1100 2318.4L1101.5 2318.5L1103 2319.3L1106 2322.8L1112 2331L1113.5 2332.2L1115 2332.7L1118 2332.3L1125.5 2330.2L1130 2329.6L1137.5 2329L1139 2329.1L1140.5 2329.6L1143.5 2332.2L1151 2341.3L1157 2351L1158.5 2352.6L1160 2353.2L1196 2353.2L1197.5 2352.7L1199 2349.4L1212.5 2297.7L1214 2292.7L1215.5 2289.3L1217 2288.4L1218.5 2291L1220 2296.2L1227.5 2328.2L1229 2330.8L1232 2333.2L1238 2336.1L1241 2338.2L1251.5 2350.4L1254.5 2352.6L1256 2353.1L1746.5 2353.2L1748 2352.4L1749.5 2349.8L1754 2338.6L1758.5 2330.3L1761.5 2325.9L1763 2325L1764.5 2325.5L1766 2327.2L1772 2338.9L1776.5 2349L1778 2351.7L1779.5 2353.1L1902.5 2353.2L1904 2352.9L1905.5 2350.8L1910 2337.7L1916 2322.5L1919 2316.7L1920.5 2315.7L1922 2316.6L1923.5 2319.6L1934 2349.8L1935.5 2352.5L1937 2353.2L1977.5 2353.1L1980.5 2351.7L1989.5 2343.6L1997 2339L2000 2338.3L2001.5 2338.6L2004.5 2340.3L2010.5 2345.4L2016.5 2351.5L2019.5 2353.2L2061.5 2353.2"/>
<path class="s" stroke="#00ff00" d="M360.5 2349.3L375.5 2349.2L386 2347.6L390.5 2347.3L395 2347.9L405.5 2350.5L416 2351.7L423.5 2352L626 2351.3L627.5 2351.2L630.5 2349.8L644 2339.8L647 2338.5L648.5 2338.3L650 2338.6L653 2339.9L660.5 2345.7L663.5 2347.5L666.5 2348.3L668 2348.1L671 2345.8L680 2334.9L681.5 2333.8L683 2333.4L684.5 2333.5L687.5 2335.2L696.5 2344.6L699.5 2346.8L701 2347.3L705.5 2346.9L716 2344.1L726.5 2342.7L734 2340.4L737 2340L741.5 2341.3L752 2348.1L756.5 2350L765.5 2351.5L771.5 2352L795.5 2351.7L798.5 2351.3L806 2346.4L813.5 2342.1L816.5 2340.7L819.5 2340L822.5 2340.4L825.5 2341.5L836 2347.5L840.5 2348.3L845 2346.8L857 2338.4L860 2337.3L867.5 2336L878 2335L897.5 2335L900.5 2335.7L908 2338.7L912.5 2339.2L915.5 2337.8L920 2334.5L923 2333.3L924.5 2333.6L926 2334.4L932 2340.3L933.5 2341.3L935 2341.7L938 2340.8L947 2333.6L950 2331.9L951.5 2331.7L954.5 2332L957.5 2332.8L972.5 2339.7L987.5 2344L995 2345.2L1014.5 2346.8L1029.5 2349.4L1037 2350L1038.5 2348.8L1040 2346.3L1044.5 2336.5L1046 2334L1052 2329.2L1055 2327.9L1056.5 2327.7L1059.5 2327.9L1064 2329.1L1074.5 2334L1077.5 2336.5L1085 2344.3L1088 2346.2L1089.5 2346.6L1097 2346L1112 2342.5L1119.5 2341.7L1125.5 2342.6L1136 2346.1L1140.5 2346.7L1145 2345.8L1154 2342.4L1158.5 2341.7L1161.5 2342.1L1164.5 2343L1175 2347.4L1178 2348.2L1181 2348.3L1184 2347.3L1187 2345.6L1197.5 2337.6L1200.5 2336.2L1203.5 2335.7L1205 2335.9L1208 2337.2L1217 2344.1L1221.5 2346.4L1223 2346.7L1226 2346.3L1236.5 2342.2L1241 2341.7L1244 2342.6L1247 2344.2L1257.5 2351.4L1260.5 2352.7L1263.5 2353.2L1746.5 2353.2L1748 2353L1751 2351.3L1758.5 2344L1761.5 2342.1L1763 2341.7L1764.5 2341.8L1767.5 2343.5L1776.5 2351.9L1778 2352.7L1781 2353.2L1877 2353.2L1880 2351.9L1889 2343.2L1892 2341.7L1893.5 2341.8L1896.5 2343.4L1904 2351L1907 2353L1908.5 2353.2L1928 2353L1931 2351.2L1937 2346.1L1940 2345L1943 2346.1L1950.5 2352.2L1953.5 2353.2L1976 2352.8L2000 2351.3L2004.5 2350.3L2012 2347.5L2016.5 2346.7L2061.5 2346.7"/>
<path class="s" stroke="#d633ff" d="M360.5 2353.2L2064.5 2353.2"/>
<path class="d" stroke="#000" stroke-dashoffset="0" d="M360.5 2367.7L362 2369.3L363.5 2371.8L369.5 2386.7L375.5 2399.7L378.5 2404.9L381.5 2407.9L389 2412L390.5 2413.5L392 2416.1L393.5 2419.9L396.5 2431L398 2443.1L401 2482.2L404 2506.5L405.5 2516.7L407 2523.7L408.5 2526L410 2523.7L414.5 2506.7L416 2502.2L417.5 2500.7L419 2503L423.5 2519.4L425 2523.2L426.5 2523.5L428 2515.6L429.5 2501.1L438.5 2398.3L440 2387.5L443 2373.8L444.5 2368.5L446 2365.1L447.5 2364.1L449 2367.5L450.5 2375.4L455 2407.4L456.5 2415L462.5 2434.4L464 2437.4L465.5 2438.9L467 2438.4L468.5 2436L470 2431.9L476 2411L482 2393.7L485 2386.2L486.5 2383.8L488 2382.7L489.5 2384.1L491 2389.6L497 2427.6L501.5 2447.2L503 2452.6L504.5 2456.2L506 2457.1L507.5 2454.8L509 2449.8L516.5 2411.4L518 2406.2L519.5 2403.5L521 2404.7L522.5 2410.9L524 2420.7L528.5 2456.2L530 2464.7L534.5 2484.7L536 2488.9L537.5 2490.2L539 2484.4L545 2424.2L549.5 2388.7L551 2380.3L554 2371.2L557 2365L558.5 2363.5L560 2363.4L561.5 2365L564.5 2372.2L569 2389.7L575 2416.4L581 2451.5L588.5 2492L591.5 2503.8L593 2506.2L594.5 2503.5L596 2493.5L600.5 2447.9L605 2417.8L608 2401.8L609.5 2397.2L611 2396.1L615.5 2397.5L617 2397.4L621.5 2394.7L623 2394.6L624.5 2399.6L627.5 2424.4L638 2543.3L641 2564.7L642.5 2571.5L644 2571.5L645.5 2562.2L651.5 2486.2L657.5 2419.8L662 2395L663.5 2390L665 2388.2L666.5 2392.4L668 2403.7L674 2477.9L677 2528L678.5 2546.5L681.5 2572.5L683 2578.6L684.5 2573.5L686 2554.4L689 2499.7L695 2407.4L696.5 2393.5L699.5 2379.4L701 2374.8L702.5 2372.8L704 2373.9L705.5 2377.1L707 2381.9L713 2403.8L716 2409.7L720.5 2416.9L723.5 2423.1L726.5 2433.1L735.5 2467.1L737 2471.1L738.5 2472.5L740 2470.7L741.5 2466.8L747.5 2443.3L749 2439.3L750.5 2437.6L752 2440.2L753.5 2448.1L759.5 2495.3L764 2516.2L765.5 2520.6L767 2521.5L768.5 2514.3L770 2499.7L774.5 2442.4L780.5 2383.3L782 2376L785 2366.9L786.5 2364.3L788 2363.8L789.5 2369.7L791 2382.3L794 2420.9L797 2466.5L803 2605.9L807.5 2670.3L809 2687.2L810.5 2699.2L812 2704.8L813.5 2699.7L815 2680.8L819.5 2601.9L824 2554.4L825.5 2544.5L827 2541.7L828.5 2542.3L836 2550.7L837.5 2551.6L839 2551.6L840.5 2550.4L842 2548.4L846.5 2541L848 2539.5L849.5 2539.1L851 2546.9L852.5 2564L855.5 2612.5L860 2743.7L863 2798.4L864.5 2819.6L866 2831.6L867.5 2829.8L869 2810.8L878 2613.5L881 2580L882.5 2570.2L884 2568.9L885.5 2571.5L890 2584.2L891.5 2586L893 2583.7L894.5 2576.9L905 2506.5L906.5 2500.2L908 2498.9L909.5 2510.4L911 2533.6L920 2706.8L921.5 2728L924.5 2757.9L926 2768.6L927.5 2773.4L929 2763.4L930.5 2733.5L933.5 2648.2L938 2543.8L941 2495.2L942.5 2476.8L944 2466.7L945.5 2469.6L947 2482.2L960.5 2680L965 2728.1L966.5 2740.7L968 2749.2L971 2758L972.5 2760.8L974 2761.8L975.5 2759.3L977 2752.3L984.5 2692.6L992 2616.5L995 2599.4L999.5 2579.3L1001 2574.7L1002.5 2571.7L1004 2570.7L1005.5 2571.9L1007 2575.4L1008.5 2580.7L1013 2605L1014.5 2618.5L1019 2694.1L1023.5 2743.6L1025 2752.3L1026.5 2748.1L1028 2717.8L1031 2624.7L1037 2461.8L1038.5 2438.1L1041.5 2406.7L1044.5 2385.3L1046 2380.5L1047.5 2381.1L1049 2387.6L1050.5 2398L1058 2456.5L1061 2499.3L1062.5 2512.8L1064 2524.5L1065.5 2532.2L1067 2534.3L1068.5 2532.5L1070 2528.6L1074.5 2508.3L1076 2498.5L1082 2431.9L1085 2416.8L1088 2406.6L1089.5 2403.5L1091 2401.8L1092.5 2402.2L1094 2405.7L1100 2428.5L1101.5 2430.6L1103 2428.4L1107.5 2405.3L1109 2399.6L1110.5 2398.3L1116.5 2399.1L1122.5 2401.2L1130 2405L1133 2408L1136 2413.2L1140.5 2423.4L1148 2442.8L1151 2453.5L1152.5 2461.6L1155.5 2490.5L1157 2512L1164.5 2665.5L1167.5 2710.6L1169 2722.8L1170.5 2719L1173.5 2684.2L1182.5 2467.7L1184 2441.7L1188.5 2393L1190 2379.8L1191.5 2373.4L1194.5 2373.5L1199 2374.7L1202 2376.2L1205 2378.3L1206.5 2384.2L1208 2396.7L1214 2463.1L1217 2489.3L1218.5 2495.3L1221.5 2500.7L1224.5 2504.9L1229 2509.3L1232 2511L1235 2511.6L1236.5 2511.2L1238 2508.3L1239.5 2503.2L1245.5 2472.1L1253 2411.5L1257.5 2379.8L1260.5 2363.6L1262 2361L1269.5 2364.6L1274 2365.9L1301 2366L1308.5 2364.6L1317.5 2361.2L1320.5 2359.5L1326.5 2354.5L1329.5 2353.2L1536.5 2353.2L1539.5 2354.1L1542.5 2356.7L1550 2366.7L1553 2372.6L1559 2388L1560.5 2390.9L1562 2392.7L1563.5 2393.3L1565 2392.2L1566.5 2389.8L1575.5 2365.3L1581.5 2356.8L1584.5 2353.9L1586 2353.3L1632.5 2353.4L1673 2354L1674.5 2354.9L1676 2358.4L1677.5 2363.8L1689.5 2421L1692.5 2431.7L1694 2433.3L1695.5 2431L1697 2425L1703 2390.7L1707.5 2361L1709 2355.2L1710.5 2354L1746.5 2354L1748 2355L1749.5 2358.1L1752.5 2368.7L1757 2388.1L1763 2420.8L1764.5 2425.3L1766 2428L1769 2431.6L1776.5 2437.5L1779.5 2441.8L1781 2445L1782.5 2453.5L1785.5 2481.6L1788.5 2498.3L1800.5 2549.9L1802 2553.8L1803.5 2555L1805 2552.3L1806.5 2545.9L1809.5 2526.9L1811 2514.3L1818.5 2411.8L1821.5 2386.3L1824.5 2369.9L1829 2358.6L1830.5 2356.1L1832 2354.5L1833.5 2354L1866.5 2354L1868 2355L1869.5 2358.2L1872.5 2369.4L1875.5 2384.4L1877 2395.4L1878.5 2410.8L1883 2493.1L1887.5 2600.3L1889 2623.1L1890.5 2635.1L1892 2642.7L1893.5 2645L1895 2640.4L1896.5 2628.6L1898 2610L1899.5 2562.7L1902.5 2511.6L1904 2488.3L1907 2464.4L1910 2450L1913 2441.3L1916 2434.8L1922 2424.5L1925 2418.3L1932.5 2395.3L1934 2392.9L1935.5 2392.5L1937 2394.3L1940 2403.4L1943 2416.7L1944.5 2425.7L1947.5 2454.9L1956.5 2570.8L1958 2574.7L1959.5 2571.6L1961 2565.9L1964 2548.3L1967 2506.7L1970 2485.8L1971.5 2477.8L1973 2472.3L1974.5 2469.5L1976 2470L1977.5 2473.1L1979 2478.3L1982 2492.5L1988 2524.1L1997 2579.9L2001.5 2601.9L2004.5 2613.5L2006 2616.3L2007.5 2616.6L2010.5 2615.9L2019.5 2611.9L2021 2611.7L2022.5 2612.1L2024 2615.1L2025.5 2620.5L2030 2645.7L2031.5 2656.8L2033 2673.6L2037.5 2731.1L2040.5 2790.3L2042 2809.4L2045 2829.6L2046.5 2835.2L2048 2835.7L2049.5 2815L2052.5 2759.4L2057 2691.3L2061.5 2610"/>
<path class="d" stroke="#ff0000" stroke-dashoffset="28" d="M360.5 2354.5L372.5 2355.2L384.5 2356.4L387.5 2356.9L389 2358.1L392 2362.6L399.5 2379L405.5 2390.6L407 2392.8L408.5 2393.6L410 2392.8L416 2386L417.5 2385.5L419 2386.1L425 2391.8L426.5 2391.9L428 2389.7L429.5 2385.6L434 2370.4L435.5 2367.1L441.5 2356.2L443 2354.6L444.5 2353.7L447.5 2353.9L450.5 2354.6L462.5 2359.5L467 2360.5L471.5 2360.3L483.5 2357L488 2356.8L491 2357.7L500 2362.1L503 2362.7L507.5 2361.9L516.5 2358.2L521 2357.7L524 2358.8L533 2364.7L536 2365.6L537.5 2365.6L540.5 2364.7L551 2357.5L555.5 2355.6L558.5 2355.6L563 2356.5L567.5 2358.2L581 2364.6L585.5 2366L590 2366.6L591.5 2366.4L594.5 2365.3L603.5 2359.1L606.5 2357.5L609.5 2356.7L615.5 2357L621.5 2358L624.5 2359L627.5 2362.4L632 2369.4L638 2377.2L639.5 2378.6L641 2379.2L642.5 2378.6L644 2377L650 2366.5L653 2362.4L659 2358.1L663.5 2356.2L666.5 2356.4L668 2357.3L671 2360.5L678.5 2370.5L681.5 2373L683 2373.5L684.5 2373.3L687.5 2371.1L695 2360.8L698 2357.4L699.5 2356.3L704 2354.7L707 2354.3L746 2354.3L747.5 2354.5L749 2355.8L750.5 2358.2L758 2373.8L762.5 2384.9L764 2387.6L765.5 2389L767 2388.6L768.5 2386.3L774.5 2369.3L776 2366.1L780.5 2360.6L783.5 2357.6L786.5 2355.8L788 2355.5L789.5 2355.9L791 2357.4L792.5 2359.9L801.5 2380.5L807.5 2396.8L810.5 2402.4L812 2403.4L813.5 2402.9L815 2400.5L821 2384.5L825.5 2374.4L827 2371.9L828.5 2371.1L830 2371.7L831.5 2373.2L837.5 2382.6L840.5 2385.8L843.5 2385.9L849.5 2384.6L851 2385.2L852.5 2388.1L857 2403.2L863 2420.8L864.5 2423.9L866 2425.1L867.5 2423.4L869 2418.8L875 2388.4L876.5 2381.9L878 2377.7L884 2369.5L888.5 2365.3L891.5 2363.8L893 2363.6L896 2363.7L900.5 2364.5L908 2367.6L912.5 2370.5L914 2371.9L915.5 2376L921.5 2400.6L926 2412.4L927.5 2415.4L929 2417.2L930.5 2417.4L932 2414.8L933.5 2410L939.5 2384.5L945.5 2368.2L947 2365.8L948.5 2365.1L950 2365.8L953 2370.1L960.5 2387L971 2405.9L974 2409.5L975.5 2410.4L977 2410.6L978.5 2409.7L980 2407.8L989 2387.8L996.5 2375.4L999.5 2371.9L1001 2371.2L1002.5 2371.3L1004 2372.7L1007 2378.5L1016 2403.8L1022 2424.5L1023.5 2428.2L1025 2430.2L1026.5 2429.8L1028 2425.4L1035.5 2381.3L1037 2376.2L1041.5 2364.3L1044.5 2358.9L1046 2357.7L1061 2358.1L1065.5 2359.4L1070 2361.8L1082 2370.2L1098.5 2380.7L1103 2382.9L1106 2383.6L1107.5 2383.7L1109 2383.2L1110.5 2381.9L1113.5 2377.5L1119.5 2367L1122.5 2364L1124 2363.7L1125.5 2364.2L1127 2365.4L1130 2369.3L1137.5 2381.3L1140.5 2384.3L1142 2385L1143.5 2384.7L1145 2383.2L1152.5 2369.3L1154 2367.8L1155.5 2367.6L1157 2368.5L1158.5 2370.4L1164.5 2382.2L1167.5 2387.1L1169 2388.4L1170.5 2388.6L1172 2386.9L1173.5 2383.7L1181 2361.1L1182.5 2358.7L1184 2358L1185.5 2358.2L1188.5 2359.1L1193 2361.8L1205 2372L1208 2375L1218.5 2388.2L1221.5 2390.5L1223 2390.9L1224.5 2390.9L1226 2389.9L1227.5 2388.2L1230.5 2383.1L1236.5 2370.5L1239.5 2365.6L1247 2356.9L1250 2354.7L1251.5 2354.2L1752.5 2354.3L1754 2354.5L1755.5 2355.8L1757 2358.2L1763 2371.2L1764.5 2373.5L1766 2374.9L1767.5 2374.8L1769 2373.3L1770.5 2370.9L1776.5 2357.9L1778 2355.6L1779.5 2354.4L1866.5 2354.3L1868 2354.6L1871 2357.4L1874 2362.3L1878.5 2372.1L1880 2378.1L1884.5 2404.5L1886 2409.4L1887.5 2409.9L1889 2409.3L1892 2406.7L1896.5 2400.3L1898 2395.9L1902.5 2370.4L1904 2364.6L1905.5 2363.4L1907 2364.5L1908.5 2366.7L1914.5 2379.3L1916 2381.7L1917.5 2383.1L1919 2383.2L1920.5 2382.3L1922 2380.6L1928 2370.3L1931 2366.2L1932.5 2365.2L1934 2365.1L1935.5 2365.6L1937 2366.6L1940 2369.7L1952 2387.4L1955 2390.4L1958 2391.7L1959.5 2391.3L1961 2390L1964 2385.3L1970 2374.2L1971.5 2372.5L1973 2371.7L1974.5 2371.9L1977.5 2374.5L1985 2386L1988 2389.3L1989.5 2390L1991 2389.7L1992.5 2388.5L1994 2386.5L2000 2375.2L2003 2371L2004.5 2370.1L2006 2370.4L2007.5 2372.2L2009 2375.2L2015 2390L2025.5 2407.5L2030 2416.7L2031.5 2421.1L2037.5 2446.1L2039 2451L2040.5 2454.2L2042 2455L2043.5 2454.3L2046.5 2450.5L2049.5 2444.1L2052.5 2435L2057 2404.7L2061.5 2380.8"/>
<path class="d" stroke="#0000ff" stroke-dashoffset="14" d="M360.5 2354.2L747.5 2354.4L1035.5 2355.2L1038.5 2355.7L1043 2357.5L1056.5 2366.2L1070 2373.1L1074.5 2374.6L1077.5 2375L1080.5 2374.5L1085 2372.5L1097 2364.7L1106 2357.5L1109 2355.8L1112 2355.2L1196 2355.3L1200.5 2356.8L1212.5 2364.6L1217 2366L1220 2365.6L1223 2364.4L1233.5 2357.4L1236.5 2355.9L1239.5 2355.2L1740.5 2355.2L1746.5 2356.5L1758.5 2361.3L1763 2362L1767.5 2361.3L1779.5 2356.5L1785.5 2355.2L1898 2355.2L1901 2355.6L1904 2356.8L1916 2363.2L1920.5 2364L1925 2362.8L1935.5 2357.1L1938.5 2355.8L1941.5 2355.2L2064.5 2355.2"/>
<path class="d" stroke="#00ff00" stroke-dashoffset="0" d="M360.5 2354.8L375.5 2354.8L390.5 2355.5L405.5 2354.3L423.5 2353.7L626 2353.9L630.5 2354.6L644 2358.6L648.5 2359.1L653 2358.5L663.5 2355.5L668 2355.3L671 2356.2L680 2360.5L683 2361.1L687.5 2360.4L696.5 2356.6L701 2355.6L737 2358.5L741.5 2358L752 2355.2L756.5 2354.5L771.5 2353.7L795.5 2353.8L798.5 2354L813.5 2357.7L819.5 2358.5L825.5 2357.9L836 2355.5L840.5 2355.2L845 2355.8L857 2359.1L867.5 2360.1L878 2360.5L897.5 2360.5L908 2359L912.5 2358.8L923 2361.1L926 2360.7L932 2358.4L935 2357.8L938 2358.2L947 2361L951.5 2361.8L957.5 2361.4L972.5 2358.6L987.5 2356.9L1037 2354.5L1040 2356L1046 2360.9L1052 2362.8L1056.5 2363.4L1064 2362.8L1074.5 2360.9L1085 2356.8L1089.5 2355.8L1119.5 2357.8L1140.5 2355.8L1158.5 2357.8L1164.5 2357.3L1175 2355.5L1181 2355.2L1187 2356.2L1197.5 2359.4L1203.5 2360.2L1208 2359.6L1217 2356.9L1221.5 2355.9L1226 2356L1236.5 2357.6L1241 2357.8L1247 2356.8L1257.5 2353.9L1263.5 2353.2L1746.5 2353.2L1751 2354L1758.5 2356.9L1763 2357.8L1767.5 2357.1L1776.5 2353.7L1781 2353.2L1877 2353.2L1880 2353.7L1889 2357.2L1892 2357.8L1896.5 2357.1L1904 2354.1L1908.5 2353.2L1928 2353.3L1937 2356.1L1940 2356.5L1943 2356.1L1950.5 2353.6L1953.5 2353.2L2000 2353.9L2016.5 2355.8L2061.5 2355.8"/>
</g>
<rect x="344.5" y="83.0" width="1717.5" height="1263.0" fill="none" stroke="#000" stroke-width="10.4"/>
<path d="M469.4 1346.0V1371.0M781.7 1346.0V1371.0M1094.0 1346.0V1371.0M1406.2 1346.0V1371.0M1718.5 1346.0V1371.0M2030.8 1346.0V1371.0M625.5 1346.0V1358.0M937.8 1346.0V1358.0M1250.1 1346.0V1358.0M1562.4 1346.0V1358.0M1874.6 1346.0V1358.0M344.5 1346.0H319.5M344.5 1030.2H319.5M344.5 714.5H319.5M344.5 398.8H319.5M344.5 83.0H319.5M344.5 1188.1H332.0M344.5 872.4H332.0M344.5 556.6H332.0M344.5 240.9H332.0" stroke="#000" stroke-width="10" fill="none"/>
<rect x="347.5" y="1715.4" width="1713.0" height="1275.6" fill="none" stroke="#000" stroke-width="10.4"/>
<path d="M472.1 2991.0V3016.0M783.5 2991.0V3016.0M1095.0 2991.0V3016.0M1406.4 2991.0V3016.0M1717.9 2991.0V3016.0M2029.4 2991.0V3016.0M627.8 2991.0V3003.0M939.3 2991.0V3003.0M1250.7 2991.0V3003.0M1562.2 2991.0V3003.0M1873.6 2991.0V3003.0M347.5 2991.0H322.5M347.5 2672.1H322.5M347.5 2353.2H322.5M347.5 2034.3H322.5M347.5 1715.4H322.5M347.5 2831.5H335.0M347.5 2512.6H335.0M347.5 2193.8H335.0M347.5 1874.8H335.0" stroke="#000" stroke-width="10" fill="none"/>
<path d="M1349.7 82V708M1233 714.5V1347M1423 1715V2353M1301 2353.2V2992" stroke="#7f0000" stroke-width="14" fill="none"/>
<path d="M1200.0 186.0L1302.1 261.5" stroke="#000" stroke-width="10" fill="none"/><path d="M1334.7 285.6L1290.4 269.0L1305.8 248.1Z" fill="#000" stroke="#000" stroke-width="7" stroke-linejoin="round"/>
<path d="M1052.7 1245.0L1178.6 1185.8" stroke="#000" stroke-width="10" fill="none"/><path d="M1215.2 1168.6L1179.6 1199.7L1168.5 1176.2Z" fill="#000" stroke="#000" stroke-width="7" stroke-linejoin="round"/>
<path d="M1236.7 1809.3L1373.0 1842.6" stroke="#000" stroke-width="10" fill="none"/><path d="M1412.3 1852.2L1365.0 1854.1L1371.2 1828.8Z" fill="#000" stroke="#000" stroke-width="7" stroke-linejoin="round"/>
<path d="M1118.3 2885.0L1251.3 2819.8" stroke="#000" stroke-width="10" fill="none"/><path d="M1287.7 2802.0L1252.5 2833.7L1241.1 2810.3Z" fill="#000" stroke="#000" stroke-width="7" stroke-linejoin="round"/>
<text class="p" x="51.0" y="108.3">(a)</text>
<text class="p" x="37.0" y="1766.0">(b)</text>
<text class="t" x="301.8" y="108.0" text-anchor="end">1.0</text>
<text class="t" x="301.8" y="423.8" text-anchor="end">0.5</text>
<text class="t" x="301.8" y="739.5" text-anchor="end">0.0</text>
<text class="t" x="301.8" y="1055.2" text-anchor="end">-0.5</text>
<text class="t" x="301.8" y="1371.0" text-anchor="end">-1.0</text>
<text class="t" x="306.8" y="1740.9" text-anchor="end">2.0</text>
<text class="t" x="306.8" y="2059.8" text-anchor="end">1.0</text>
<text class="t" x="306.8" y="2378.7" text-anchor="end">0.0</text>
<text class="t" x="306.8" y="2697.6" text-anchor="end">-1.0</text>
<text class="t" x="306.8" y="3016.5" text-anchor="end">-2.0</text>
<text class="t" x="468.4" y="1453.3" text-anchor="middle">-20</text>
<text class="t" x="471.1" y="3099.3" text-anchor="middle">-20</text>
<text class="t" x="780.7" y="1453.3" text-anchor="middle">-15</text>
<text class="t" x="782.5" y="3099.3" text-anchor="middle">-15</text>
<text class="t" x="1093.0" y="1453.3" text-anchor="middle">-10</text>
<text class="t" x="1094.0" y="3099.3" text-anchor="middle">-10</text>
<text class="t" x="1405.2" y="1453.3" text-anchor="middle">-5</text>
<text class="t" x="1405.4" y="3099.3" text-anchor="middle">-5</text>
<text class="t" x="1717.5" y="1453.3" text-anchor="middle">0</text>
<text class="t" x="1716.9" y="3099.3" text-anchor="middle">0</text>
<text class="t" x="2029.8" y="1453.3" text-anchor="middle">5</text>
<text class="t" x="2028.4" y="3099.3" text-anchor="middle">5</text>
<text class="x" x="1223.7" y="1531.7" text-anchor="middle">Energy (eV)</text>
<text class="x" x="1246.2" y="3183.3" text-anchor="middle">Energy (eV)</text>
<text class="x" text-anchor="middle" transform="translate(121.7 685.3) rotate(-90)">Density-of-states</text>
<text class="x" text-anchor="middle" transform="translate(144.5 2324) rotate(-90)">Density-of-states</text>
<text class="n" x="1005.0" y="180.0"><tspan font-style="italic">α</tspan>-HOMO</text>
<text class="n" x="871.0" y="1314.3">β-LUMO</text>
<text class="n" x="1064.0" y="1809.3"><tspan font-style="italic">α</tspan>-HOMO</text>
<text class="n" x="937.7" y="2951.7">β-LUMO</text>
<rect x="1377.7" y="112.9" width="103.3" height="19.6" fill="#000"/><text class="l" x="1522.0" y="144.7"><tspan font-style="italic">α</tspan>-TDOS</text>
<rect x="1377.7" y="195.3" width="103.3" height="19.6" fill="#e31a00"/><text class="l" x="1522.0" y="227.2"><tspan font-style="italic">α</tspan>-PDOS(meso-)</text>
<rect x="1377.7" y="277.8" width="103.3" height="19.6" fill="#0000ff"/><text class="l" x="1522.0" y="309.8"><tspan font-style="italic">α</tspan>-PDOS(meso-)</text>
<rect x="1377.7" y="360.2" width="103.3" height="19.6" fill="#00ff00"/><text class="l" x="1522.0" y="392.3"><tspan font-style="italic">α</tspan>-PDOS(Ni)</text>
<rect x="1377.7" y="442.7" width="103.3" height="19.6" fill="#d633ff"/><text class="l" x="1522.0" y="474.9"><tspan font-style="italic">α</tspan>-PDOS(N)</text>
<rect x="1297.7" y="894.4" width="29.3" height="19.6" fill="#000"/><rect x="1375.7" y="894.4" width="29.3" height="19.6" fill="#000"/><text class="m" x="1461.0" y="930.3">β-TDOS</text>
<rect x="1297.7" y="989.5" width="29.3" height="19.6" fill="#ff0000"/><rect x="1375.7" y="989.5" width="29.3" height="19.6" fill="#ff0000"/><text class="m" x="1461.0" y="1025.4">β-PDOS(meso-)</text>
<rect x="1297.7" y="1084.6" width="29.3" height="19.6" fill="#0000ff"/><rect x="1375.7" y="1084.6" width="29.3" height="19.6" fill="#0000ff"/><text class="m" x="1461.0" y="1120.5">β-PDOS(meso-)</text>
<rect x="1297.7" y="1179.7" width="29.3" height="19.6" fill="#00ff00"/><rect x="1375.7" y="1179.7" width="29.3" height="19.6" fill="#00ff00"/><text class="m" x="1461.0" y="1215.6">β-PDOS(Ni)</text>
<rect x="1297.7" y="1274.8" width="29.3" height="19.6" fill="#d633ff"/><rect x="1375.7" y="1274.8" width="29.3" height="19.6" fill="#d633ff"/><text class="m" x="1461.0" y="1310.7">β-PDOS(N)</text>
<rect x="1454.6" y="1749.8" width="102.8" height="19.4" fill="#000"/><text class="l" x="1597.7" y="1782.0"><tspan font-style="italic">α</tspan>-TDOS</text>
<rect x="1454.6" y="1832.8" width="102.8" height="19.4" fill="#e31a00"/><text class="l" x="1597.7" y="1864.9"><tspan font-style="italic">α</tspan>-PDOS(meso-)</text>
<rect x="1454.6" y="1915.8" width="102.8" height="19.4" fill="#0000ff"/><text class="l" x="1597.7" y="1947.8"><tspan font-style="italic">α</tspan>-PDOS(Ni)</text>
<rect x="1454.6" y="1998.8" width="102.8" height="19.4" fill="#00ff00"/><text class="l" x="1597.7" y="2030.7"><tspan font-style="italic">α</tspan>-PDOS(N)</text>
<rect x="1350.6" y="2578.0" width="29.1" height="19.4" fill="#ff0000"/><rect x="1428.6" y="2578.0" width="29.1" height="19.4" fill="#ff0000"/><text class="m" x="1513.2" y="2612.0">β-TDOS</text>
<rect x="1350.6" y="2673.8" width="29.1" height="19.4" fill="#ff0000"/><rect x="1428.6" y="2673.8" width="29.1" height="19.4" fill="#ff0000"/><text class="m" x="1513.2" y="2707.8">β-PDOS(meso-)</text>
<rect x="1350.6" y="2769.5" width="29.1" height="19.4" fill="#0000ff"/><rect x="1428.6" y="2769.5" width="29.1" height="19.4" fill="#0000ff"/><text class="m" x="1513.2" y="2803.6">β-PDOS(Ni)</text>
<rect x="1350.6" y="2865.2" width="29.1" height="19.4" fill="#00ff00"/><rect x="1428.6" y="2865.2" width="29.1" height="19.4" fill="#00ff00"/><text class="m" x="1513.2" y="2899.4">β-PDOS(N)</text>
</svg>
</body></html>
